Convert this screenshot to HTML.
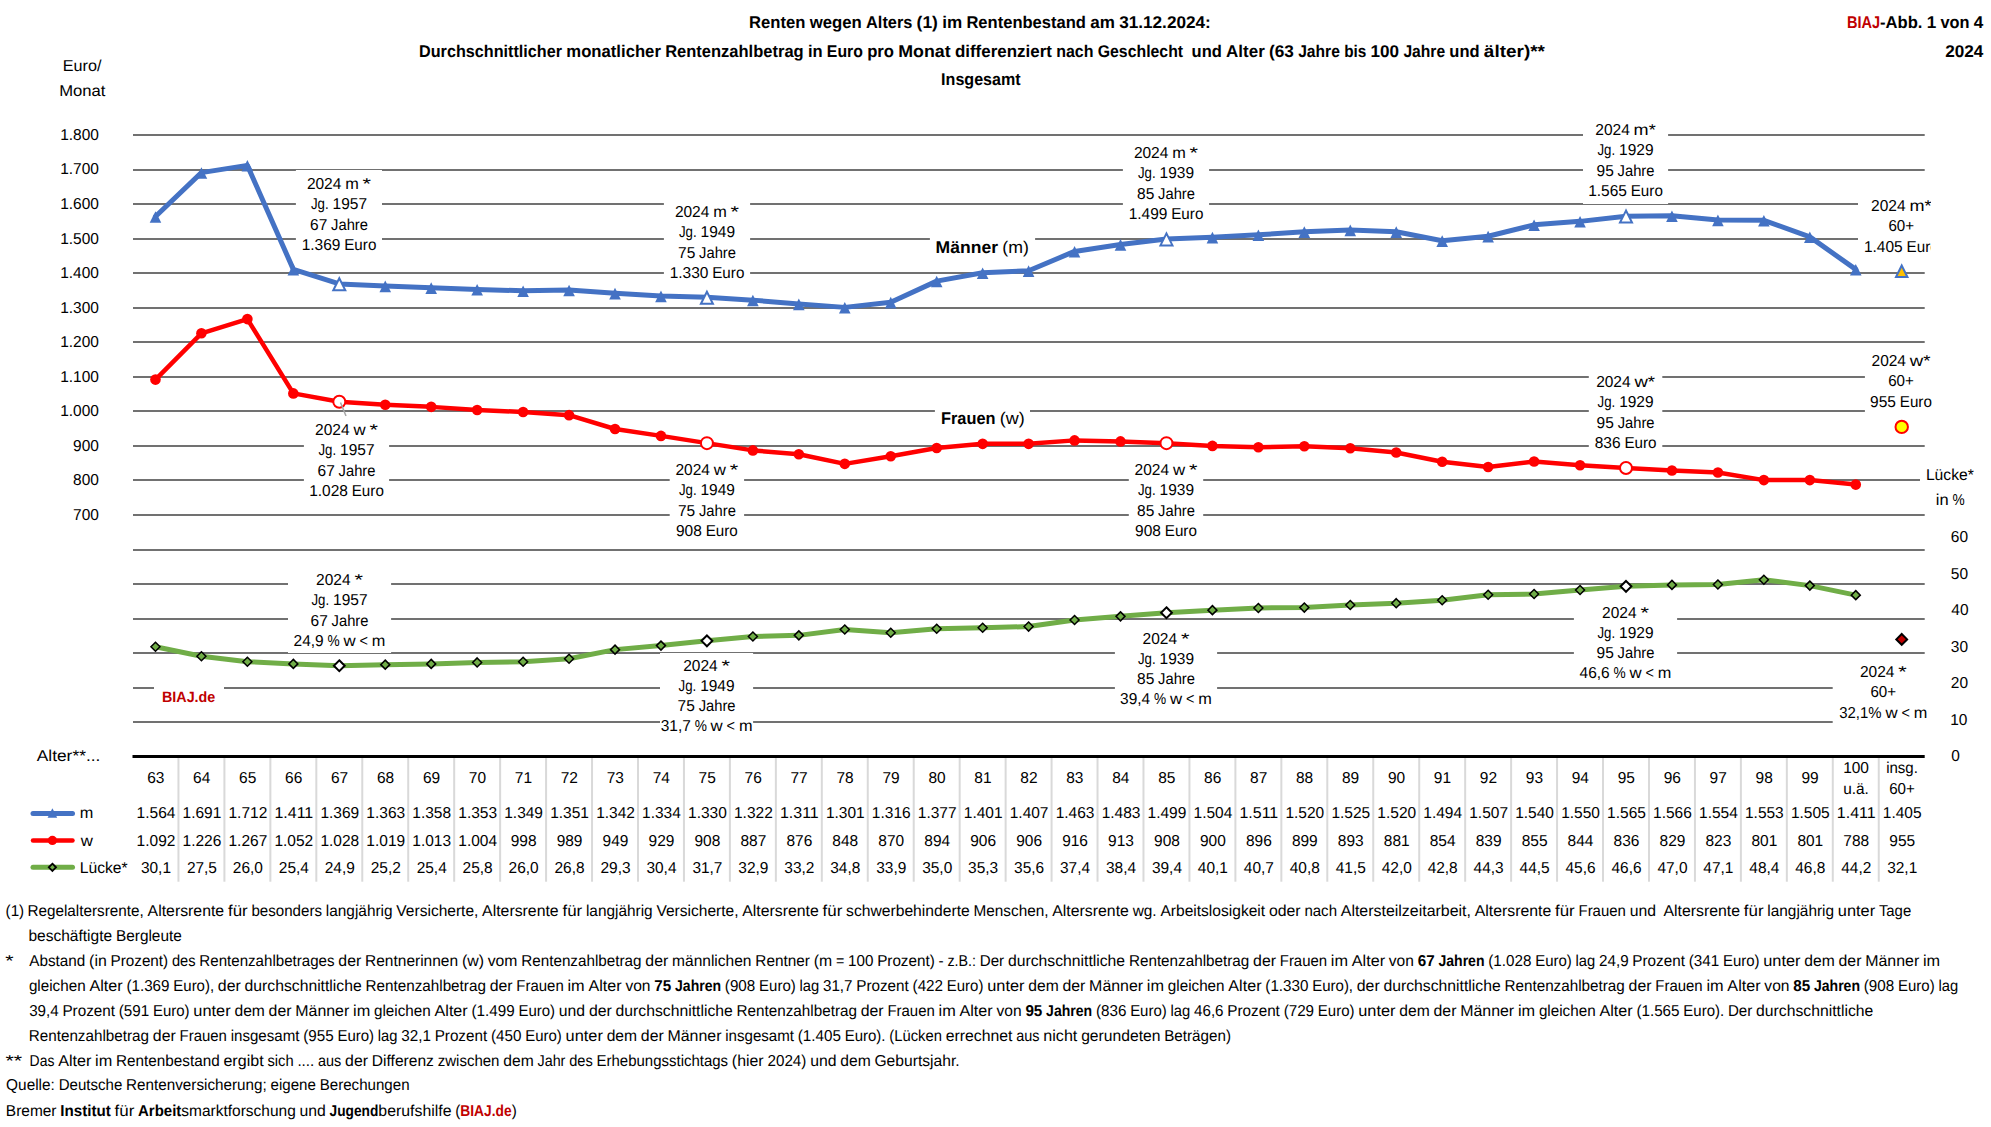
<!DOCTYPE html><html><head><meta charset="utf-8"><title>Renten wegen Alters 2024</title><style>html,body{margin:0;padding:0;background:#fff;overflow:hidden;width:1991px;height:1127px;}svg{display:block;}</style></head><body><svg width="1991" height="1127" viewBox="0 0 1991 1127" font-family="'Liberation Sans', Arial, sans-serif" text-rendering="geometricPrecision">
<defs><clipPath id="cr"><rect x="0" y="0" width="1931" height="1127"/></clipPath></defs>
<rect x="0" y="0" width="1991" height="1127" fill="#fff"/>
<rect x="133" y="134" width="1791.7" height="2" fill="#717171"/>
<rect x="133" y="169" width="1791.7" height="2" fill="#717171"/>
<rect x="133" y="203" width="1791.7" height="2" fill="#717171"/>
<rect x="133" y="238" width="1791.7" height="2" fill="#717171"/>
<rect x="133" y="272" width="1791.7" height="2" fill="#717171"/>
<rect x="133" y="307" width="1791.7" height="2" fill="#717171"/>
<rect x="133" y="341" width="1791.7" height="2" fill="#717171"/>
<rect x="133" y="376" width="1791.7" height="2" fill="#717171"/>
<rect x="133" y="410" width="1791.7" height="2" fill="#717171"/>
<rect x="133" y="445" width="1791.7" height="2" fill="#717171"/>
<rect x="133" y="479" width="1791.7" height="2" fill="#717171"/>
<rect x="133" y="514" width="1791.7" height="2" fill="#717171"/>
<rect x="133" y="549" width="1791.7" height="2" fill="#717171"/>
<rect x="133" y="583" width="1791.7" height="2" fill="#717171"/>
<rect x="133" y="618" width="1791.7" height="2" fill="#717171"/>
<rect x="133" y="652" width="1791.7" height="2" fill="#717171"/>
<rect x="133" y="687" width="1791.7" height="2" fill="#717171"/>
<rect x="133" y="721" width="1791.7" height="2" fill="#717171"/>
<text x="749.11" y="27.90" font-size="17.0" textLength="56.36" lengthAdjust="spacingAndGlyphs" font-weight="bold">Renten</text>
<text x="809.73" y="27.90" font-size="17.0" textLength="52.08" lengthAdjust="spacingAndGlyphs" font-weight="bold">wegen</text>
<text x="866.07" y="27.90" font-size="17.0" textLength="46.30" lengthAdjust="spacingAndGlyphs" font-weight="bold">Alters</text>
<text x="916.63" y="27.90" font-size="17.0" textLength="21.30" lengthAdjust="spacingAndGlyphs" font-weight="bold">(1)</text>
<text x="942.19" y="27.90" font-size="17.0" textLength="19.96" lengthAdjust="spacingAndGlyphs" font-weight="bold">im</text>
<text x="966.41" y="27.90" font-size="17.0" textLength="119.55" lengthAdjust="spacingAndGlyphs" font-weight="bold">Rentenbestand</text>
<text x="1090.23" y="27.90" font-size="17.0" textLength="24.64" lengthAdjust="spacingAndGlyphs" font-weight="bold">am</text>
<text x="1119.13" y="27.90" font-size="17.0" textLength="91.70" lengthAdjust="spacingAndGlyphs" font-weight="bold">31.12.2024:</text>
<text x="419.04" y="56.90" font-size="17.0" textLength="143.04" lengthAdjust="spacingAndGlyphs" font-weight="bold">Durchschnittlicher</text>
<text x="566.32" y="56.90" font-size="17.0" textLength="94.57" lengthAdjust="spacingAndGlyphs" font-weight="bold">monatlicher</text>
<text x="665.14" y="56.90" font-size="17.0" textLength="138.54" lengthAdjust="spacingAndGlyphs" font-weight="bold">Rentenzahlbetrag</text>
<text x="807.93" y="56.90" font-size="17.0" textLength="14.70" lengthAdjust="spacingAndGlyphs" font-weight="bold">in</text>
<text x="826.87" y="56.90" font-size="17.0" textLength="36.03" lengthAdjust="spacingAndGlyphs" font-weight="bold">Euro</text>
<text x="867.15" y="56.90" font-size="17.0" textLength="26.86" lengthAdjust="spacingAndGlyphs" font-weight="bold">pro</text>
<text x="898.26" y="56.90" font-size="17.0" textLength="52.40" lengthAdjust="spacingAndGlyphs" font-weight="bold">Monat</text>
<text x="954.91" y="56.90" font-size="17.0" textLength="97.01" lengthAdjust="spacingAndGlyphs" font-weight="bold">differenziert</text>
<text x="1056.16" y="56.90" font-size="17.0" textLength="37.30" lengthAdjust="spacingAndGlyphs" font-weight="bold">nach</text>
<text x="1097.71" y="56.90" font-size="17.0" textLength="85.41" lengthAdjust="spacingAndGlyphs" font-weight="bold">Geschlecht</text>
<text x="1191.62" y="56.90" font-size="17.0" textLength="30.25" lengthAdjust="spacingAndGlyphs" font-weight="bold">und</text>
<text x="1226.12" y="56.90" font-size="17.0" textLength="38.65" lengthAdjust="spacingAndGlyphs" font-weight="bold">Alter</text>
<text x="1269.02" y="56.90" font-size="17.0" textLength="24.90" lengthAdjust="spacingAndGlyphs" font-weight="bold">(63</text>
<text x="1298.17" y="56.90" font-size="17.0" textLength="41.72" lengthAdjust="spacingAndGlyphs" font-weight="bold">Jahre</text>
<text x="1344.13" y="56.90" font-size="17.0" textLength="22.19" lengthAdjust="spacingAndGlyphs" font-weight="bold">bis</text>
<text x="1370.57" y="56.90" font-size="17.0" textLength="28.57" lengthAdjust="spacingAndGlyphs" font-weight="bold">100</text>
<text x="1403.39" y="56.90" font-size="17.0" textLength="41.72" lengthAdjust="spacingAndGlyphs" font-weight="bold">Jahre</text>
<text x="1449.36" y="56.90" font-size="17.0" textLength="30.25" lengthAdjust="spacingAndGlyphs" font-weight="bold">und</text>
<text x="1483.85" y="56.90" font-size="17.0" textLength="61.11" lengthAdjust="spacingAndGlyphs" font-weight="bold">älter)**</text>
<text x="941.11" y="85.30" font-size="17.0" textLength="79.57" lengthAdjust="spacingAndGlyphs" font-weight="bold">Insgesamt</text>
<text x="1846.91" y="27.75" font-size="17.0" textLength="33.17" lengthAdjust="spacingAndGlyphs" font-weight="bold" fill="#C00000">BIAJ</text>
<text x="1880.07" y="27.75" font-size="17.0" textLength="42.35" lengthAdjust="spacingAndGlyphs" font-weight="bold">-Abb.</text>
<text x="1926.67" y="27.75" font-size="17.0" textLength="9.53" lengthAdjust="spacingAndGlyphs" font-weight="bold">1</text>
<text x="1940.45" y="27.75" font-size="17.0" textLength="29.09" lengthAdjust="spacingAndGlyphs" font-weight="bold">von</text>
<text x="1973.79" y="27.75" font-size="17.0" textLength="9.53" lengthAdjust="spacingAndGlyphs" font-weight="bold">4</text>
<text x="1945.17" y="57.00" font-size="17.0" textLength="38.11" lengthAdjust="spacingAndGlyphs" font-weight="bold">2024</text>
<text x="62.82" y="70.90" font-size="15.8" textLength="38.69" lengthAdjust="spacingAndGlyphs">Euro/</text>
<text x="59.22" y="95.70" font-size="15.8" textLength="46.27" lengthAdjust="spacingAndGlyphs">Monat</text>
<rect x="1920" y="462" width="60" height="48" fill="#fff"/>
<text x="1925.88" y="480.00" font-size="15.8" textLength="47.92" lengthAdjust="spacingAndGlyphs">Lücke*</text>
<text x="1935.85" y="504.80" font-size="15.8" textLength="12.83" lengthAdjust="spacingAndGlyphs">in</text>
<text x="1952.53" y="504.80" font-size="15.8" textLength="12.15" lengthAdjust="spacingAndGlyphs">%</text>
<text x="73.09" y="519.89" font-size="15.8" textLength="25.85" lengthAdjust="spacingAndGlyphs">700</text>
<text x="73.09" y="485.35" font-size="15.8" textLength="25.85" lengthAdjust="spacingAndGlyphs">800</text>
<text x="73.09" y="450.80" font-size="15.8" textLength="25.85" lengthAdjust="spacingAndGlyphs">900</text>
<text x="60.18" y="416.26" font-size="15.8" textLength="38.76" lengthAdjust="spacingAndGlyphs">1.000</text>
<text x="60.18" y="381.71" font-size="15.8" textLength="38.76" lengthAdjust="spacingAndGlyphs">1.100</text>
<text x="60.18" y="347.17" font-size="15.8" textLength="38.76" lengthAdjust="spacingAndGlyphs">1.200</text>
<text x="60.18" y="312.62" font-size="15.8" textLength="38.76" lengthAdjust="spacingAndGlyphs">1.300</text>
<text x="60.18" y="278.08" font-size="15.8" textLength="38.76" lengthAdjust="spacingAndGlyphs">1.400</text>
<text x="60.18" y="243.53" font-size="15.8" textLength="38.76" lengthAdjust="spacingAndGlyphs">1.500</text>
<text x="60.18" y="208.99" font-size="15.8" textLength="38.76" lengthAdjust="spacingAndGlyphs">1.600</text>
<text x="60.18" y="174.44" font-size="15.8" textLength="38.76" lengthAdjust="spacingAndGlyphs">1.700</text>
<text x="60.18" y="139.90" font-size="15.8" textLength="38.76" lengthAdjust="spacingAndGlyphs">1.800</text>
<text x="1951.16" y="761.40" font-size="15.8" textLength="8.62" lengthAdjust="spacingAndGlyphs">0</text>
<text x="1950.13" y="724.82" font-size="15.8" textLength="17.23" lengthAdjust="spacingAndGlyphs">10</text>
<text x="1950.84" y="688.25" font-size="15.8" textLength="17.23" lengthAdjust="spacingAndGlyphs">20</text>
<text x="1950.81" y="651.67" font-size="15.8" textLength="17.23" lengthAdjust="spacingAndGlyphs">30</text>
<text x="1951.31" y="615.10" font-size="15.8" textLength="17.23" lengthAdjust="spacingAndGlyphs">40</text>
<text x="1950.83" y="578.52" font-size="15.8" textLength="17.23" lengthAdjust="spacingAndGlyphs">50</text>
<text x="1950.84" y="541.94" font-size="15.8" textLength="17.23" lengthAdjust="spacingAndGlyphs">60</text>
<rect x="132.5" y="755" width="1792.2" height="3" fill="#000"/>
<rect x="177.45" y="758" width="2" height="123.7" fill="#D9D9D9"/>
<rect x="223.41" y="758" width="2" height="123.7" fill="#D9D9D9"/>
<rect x="269.36" y="758" width="2" height="123.7" fill="#D9D9D9"/>
<rect x="315.32" y="758" width="2" height="123.7" fill="#D9D9D9"/>
<rect x="361.27" y="758" width="2" height="123.7" fill="#D9D9D9"/>
<rect x="407.22" y="758" width="2" height="123.7" fill="#D9D9D9"/>
<rect x="453.18" y="758" width="2" height="123.7" fill="#D9D9D9"/>
<rect x="499.13" y="758" width="2" height="123.7" fill="#D9D9D9"/>
<rect x="545.08" y="758" width="2" height="123.7" fill="#D9D9D9"/>
<rect x="591.04" y="758" width="2" height="123.7" fill="#D9D9D9"/>
<rect x="636.99" y="758" width="2" height="123.7" fill="#D9D9D9"/>
<rect x="682.95" y="758" width="2" height="123.7" fill="#D9D9D9"/>
<rect x="728.90" y="758" width="2" height="123.7" fill="#D9D9D9"/>
<rect x="774.85" y="758" width="2" height="123.7" fill="#D9D9D9"/>
<rect x="820.81" y="758" width="2" height="123.7" fill="#D9D9D9"/>
<rect x="866.76" y="758" width="2" height="123.7" fill="#D9D9D9"/>
<rect x="912.72" y="758" width="2" height="123.7" fill="#D9D9D9"/>
<rect x="958.67" y="758" width="2" height="123.7" fill="#D9D9D9"/>
<rect x="1004.62" y="758" width="2" height="123.7" fill="#D9D9D9"/>
<rect x="1050.58" y="758" width="2" height="123.7" fill="#D9D9D9"/>
<rect x="1096.53" y="758" width="2" height="123.7" fill="#D9D9D9"/>
<rect x="1142.48" y="758" width="2" height="123.7" fill="#D9D9D9"/>
<rect x="1188.44" y="758" width="2" height="123.7" fill="#D9D9D9"/>
<rect x="1234.39" y="758" width="2" height="123.7" fill="#D9D9D9"/>
<rect x="1280.35" y="758" width="2" height="123.7" fill="#D9D9D9"/>
<rect x="1326.30" y="758" width="2" height="123.7" fill="#D9D9D9"/>
<rect x="1372.25" y="758" width="2" height="123.7" fill="#D9D9D9"/>
<rect x="1418.21" y="758" width="2" height="123.7" fill="#D9D9D9"/>
<rect x="1464.16" y="758" width="2" height="123.7" fill="#D9D9D9"/>
<rect x="1510.12" y="758" width="2" height="123.7" fill="#D9D9D9"/>
<rect x="1556.07" y="758" width="2" height="123.7" fill="#D9D9D9"/>
<rect x="1602.02" y="758" width="2" height="123.7" fill="#D9D9D9"/>
<rect x="1647.98" y="758" width="2" height="123.7" fill="#D9D9D9"/>
<rect x="1693.93" y="758" width="2" height="123.7" fill="#D9D9D9"/>
<rect x="1739.88" y="758" width="2" height="123.7" fill="#D9D9D9"/>
<rect x="1785.84" y="758" width="2" height="123.7" fill="#D9D9D9"/>
<rect x="1831.79" y="758" width="2" height="123.7" fill="#D9D9D9"/>
<rect x="1877.75" y="758" width="2" height="123.7" fill="#D9D9D9"/>
<polyline points="155.48,216.53 201.43,172.65 247.38,165.40 293.34,269.38 339.29,283.89 385.25,285.96 431.20,287.69 477.15,289.42 523.11,290.80 569.06,290.11 615.02,293.22 660.97,295.98 706.92,297.36 752.88,300.13 798.83,303.93 844.78,307.38 890.74,302.20 936.69,281.13 982.65,272.83 1028.60,270.76 1074.55,251.42 1120.51,244.51 1166.46,238.98 1212.42,237.25 1258.37,234.84 1304.32,231.73 1350.28,230.00 1396.23,231.73 1442.18,240.71 1488.14,236.22 1534.09,224.82 1580.05,221.36 1626.00,216.18 1671.95,215.84 1717.91,219.98 1763.86,220.33 1809.82,236.91 1855.77,269.38" fill="none" stroke="#4472C4" stroke-width="5" stroke-linejoin="round" stroke-linecap="round"/>
<polyline points="155.48,379.58 201.43,333.29 247.38,319.12 293.34,393.40 339.29,401.69 385.25,404.80 431.20,406.87 477.15,409.98 523.11,412.05 569.06,415.16 615.02,428.98 660.97,435.89 706.92,443.14 752.88,450.40 798.83,454.20 844.78,463.87 890.74,456.27 936.69,447.98 982.65,443.83 1028.60,443.83 1074.55,440.38 1120.51,441.41 1166.46,443.14 1212.42,445.90 1258.37,447.29 1304.32,446.25 1350.28,448.32 1396.23,452.47 1442.18,461.80 1488.14,466.98 1534.09,461.45 1580.05,465.25 1626.00,468.01 1671.95,470.43 1717.91,472.50 1763.86,480.10 1809.82,480.10 1855.77,484.60" fill="none" stroke="#FF0000" stroke-width="4.5" stroke-linejoin="round" stroke-linecap="round"/>
<polyline points="155.48,646.71 201.43,656.22 247.38,661.70 293.34,663.90 339.29,665.73 385.25,664.63 431.20,663.90 477.15,662.43 523.11,661.70 569.06,658.78 615.02,649.63 660.97,645.61 706.92,640.85 752.88,636.46 798.83,635.37 844.78,629.52 890.74,632.81 936.69,628.78 982.65,627.69 1028.60,626.59 1074.55,620.01 1120.51,616.35 1166.46,612.69 1212.42,610.13 1258.37,607.94 1304.32,607.57 1350.28,605.01 1396.23,603.18 1442.18,600.25 1488.14,594.77 1534.09,594.04 1580.05,590.01 1626.00,586.36 1671.95,584.89 1717.91,584.53 1763.86,579.77 1809.82,585.62 1855.77,595.13" fill="none" stroke="#70AD47" stroke-width="5" stroke-linejoin="round" stroke-linecap="round"/>
<polygon points="155.48,211.13 149.68,222.73 161.28,222.73" fill="#4472C4"/>
<circle cx="155.48" cy="379.58" r="5.3" fill="#FF0000"/>
<polygon points="155.48,642.21 159.98,646.71 155.48,651.21 150.98,646.71" fill="#70AD47" stroke="#000" stroke-width="1.5" stroke-linejoin="miter"/>
<polygon points="201.43,167.25 195.63,178.85 207.23,178.85" fill="#4472C4"/>
<circle cx="201.43" cy="333.29" r="5.3" fill="#FF0000"/>
<polygon points="201.43,651.72 205.93,656.22 201.43,660.72 196.93,656.22" fill="#70AD47" stroke="#000" stroke-width="1.5" stroke-linejoin="miter"/>
<polygon points="247.38,160.00 241.58,171.60 253.18,171.60" fill="#4472C4"/>
<circle cx="247.38" cy="319.12" r="5.3" fill="#FF0000"/>
<polygon points="247.38,657.20 251.88,661.70 247.38,666.20 242.88,661.70" fill="#70AD47" stroke="#000" stroke-width="1.5" stroke-linejoin="miter"/>
<polygon points="293.34,263.98 287.54,275.58 299.14,275.58" fill="#4472C4"/>
<circle cx="293.34" cy="393.40" r="5.3" fill="#FF0000"/>
<polygon points="293.34,659.40 297.84,663.90 293.34,668.40 288.84,663.90" fill="#70AD47" stroke="#000" stroke-width="1.5" stroke-linejoin="miter"/>
<polygon points="339.29,278.29 333.29,290.29 345.29,290.29" fill="#fff" stroke="#4472C4" stroke-width="2" stroke-linejoin="miter"/>
<circle cx="339.29" cy="401.69" r="6.0" fill="#fff" stroke="#FF0000" stroke-width="2"/>
<polygon points="339.29,660.33 344.69,665.73 339.29,671.13 333.89,665.73" fill="#fff" stroke="#000" stroke-width="2" stroke-linejoin="miter"/>
<polygon points="385.25,280.56 379.45,292.16 391.05,292.16" fill="#4472C4"/>
<circle cx="385.25" cy="404.80" r="5.3" fill="#FF0000"/>
<polygon points="385.25,660.13 389.75,664.63 385.25,669.13 380.75,664.63" fill="#70AD47" stroke="#000" stroke-width="1.5" stroke-linejoin="miter"/>
<polygon points="431.20,282.29 425.40,293.89 437.00,293.89" fill="#4472C4"/>
<circle cx="431.20" cy="406.87" r="5.3" fill="#FF0000"/>
<polygon points="431.20,659.40 435.70,663.90 431.20,668.40 426.70,663.90" fill="#70AD47" stroke="#000" stroke-width="1.5" stroke-linejoin="miter"/>
<polygon points="477.15,284.02 471.35,295.62 482.95,295.62" fill="#4472C4"/>
<circle cx="477.15" cy="409.98" r="5.3" fill="#FF0000"/>
<polygon points="477.15,657.93 481.65,662.43 477.15,666.93 472.65,662.43" fill="#70AD47" stroke="#000" stroke-width="1.5" stroke-linejoin="miter"/>
<polygon points="523.11,285.40 517.31,297.00 528.91,297.00" fill="#4472C4"/>
<circle cx="523.11" cy="412.05" r="5.3" fill="#FF0000"/>
<polygon points="523.11,657.20 527.61,661.70 523.11,666.20 518.61,661.70" fill="#70AD47" stroke="#000" stroke-width="1.5" stroke-linejoin="miter"/>
<polygon points="569.06,284.71 563.26,296.31 574.86,296.31" fill="#4472C4"/>
<circle cx="569.06" cy="415.16" r="5.3" fill="#FF0000"/>
<polygon points="569.06,654.28 573.56,658.78 569.06,663.28 564.56,658.78" fill="#70AD47" stroke="#000" stroke-width="1.5" stroke-linejoin="miter"/>
<polygon points="615.02,287.82 609.22,299.42 620.82,299.42" fill="#4472C4"/>
<circle cx="615.02" cy="428.98" r="5.3" fill="#FF0000"/>
<polygon points="615.02,645.13 619.52,649.63 615.02,654.13 610.52,649.63" fill="#70AD47" stroke="#000" stroke-width="1.5" stroke-linejoin="miter"/>
<polygon points="660.97,290.58 655.17,302.18 666.77,302.18" fill="#4472C4"/>
<circle cx="660.97" cy="435.89" r="5.3" fill="#FF0000"/>
<polygon points="660.97,641.11 665.47,645.61 660.97,650.11 656.47,645.61" fill="#70AD47" stroke="#000" stroke-width="1.5" stroke-linejoin="miter"/>
<polygon points="706.92,291.76 700.92,303.76 712.92,303.76" fill="#fff" stroke="#4472C4" stroke-width="2" stroke-linejoin="miter"/>
<circle cx="706.92" cy="443.14" r="6.0" fill="#fff" stroke="#FF0000" stroke-width="2"/>
<polygon points="706.92,635.45 712.32,640.85 706.92,646.25 701.52,640.85" fill="#fff" stroke="#000" stroke-width="2" stroke-linejoin="miter"/>
<polygon points="752.88,294.73 747.08,306.33 758.68,306.33" fill="#4472C4"/>
<circle cx="752.88" cy="450.40" r="5.3" fill="#FF0000"/>
<polygon points="752.88,631.96 757.38,636.46 752.88,640.96 748.38,636.46" fill="#70AD47" stroke="#000" stroke-width="1.5" stroke-linejoin="miter"/>
<polygon points="798.83,298.53 793.03,310.13 804.63,310.13" fill="#4472C4"/>
<circle cx="798.83" cy="454.20" r="5.3" fill="#FF0000"/>
<polygon points="798.83,630.87 803.33,635.37 798.83,639.87 794.33,635.37" fill="#70AD47" stroke="#000" stroke-width="1.5" stroke-linejoin="miter"/>
<polygon points="844.78,301.98 838.98,313.58 850.58,313.58" fill="#4472C4"/>
<circle cx="844.78" cy="463.87" r="5.3" fill="#FF0000"/>
<polygon points="844.78,625.02 849.28,629.52 844.78,634.02 840.28,629.52" fill="#70AD47" stroke="#000" stroke-width="1.5" stroke-linejoin="miter"/>
<polygon points="890.74,296.80 884.94,308.40 896.54,308.40" fill="#4472C4"/>
<circle cx="890.74" cy="456.27" r="5.3" fill="#FF0000"/>
<polygon points="890.74,628.31 895.24,632.81 890.74,637.31 886.24,632.81" fill="#70AD47" stroke="#000" stroke-width="1.5" stroke-linejoin="miter"/>
<polygon points="936.69,275.73 930.89,287.33 942.49,287.33" fill="#4472C4"/>
<circle cx="936.69" cy="447.98" r="5.3" fill="#FF0000"/>
<polygon points="936.69,624.28 941.19,628.78 936.69,633.28 932.19,628.78" fill="#70AD47" stroke="#000" stroke-width="1.5" stroke-linejoin="miter"/>
<polygon points="982.65,267.43 976.85,279.03 988.45,279.03" fill="#4472C4"/>
<circle cx="982.65" cy="443.83" r="5.3" fill="#FF0000"/>
<polygon points="982.65,623.19 987.15,627.69 982.65,632.19 978.15,627.69" fill="#70AD47" stroke="#000" stroke-width="1.5" stroke-linejoin="miter"/>
<polygon points="1028.60,265.36 1022.80,276.96 1034.40,276.96" fill="#4472C4"/>
<circle cx="1028.60" cy="443.83" r="5.3" fill="#FF0000"/>
<polygon points="1028.60,622.09 1033.10,626.59 1028.60,631.09 1024.10,626.59" fill="#70AD47" stroke="#000" stroke-width="1.5" stroke-linejoin="miter"/>
<polygon points="1074.55,246.02 1068.75,257.62 1080.35,257.62" fill="#4472C4"/>
<circle cx="1074.55" cy="440.38" r="5.3" fill="#FF0000"/>
<polygon points="1074.55,615.51 1079.05,620.01 1074.55,624.51 1070.05,620.01" fill="#70AD47" stroke="#000" stroke-width="1.5" stroke-linejoin="miter"/>
<polygon points="1120.51,239.11 1114.71,250.71 1126.31,250.71" fill="#4472C4"/>
<circle cx="1120.51" cy="441.41" r="5.3" fill="#FF0000"/>
<polygon points="1120.51,611.85 1125.01,616.35 1120.51,620.85 1116.01,616.35" fill="#70AD47" stroke="#000" stroke-width="1.5" stroke-linejoin="miter"/>
<polygon points="1166.46,233.38 1160.46,245.38 1172.46,245.38" fill="#fff" stroke="#4472C4" stroke-width="2" stroke-linejoin="miter"/>
<circle cx="1166.46" cy="443.14" r="6.0" fill="#fff" stroke="#FF0000" stroke-width="2"/>
<polygon points="1166.46,607.29 1171.86,612.69 1166.46,618.09 1161.06,612.69" fill="#fff" stroke="#000" stroke-width="2" stroke-linejoin="miter"/>
<polygon points="1212.42,231.85 1206.62,243.45 1218.22,243.45" fill="#4472C4"/>
<circle cx="1212.42" cy="445.90" r="5.3" fill="#FF0000"/>
<polygon points="1212.42,605.63 1216.92,610.13 1212.42,614.63 1207.92,610.13" fill="#70AD47" stroke="#000" stroke-width="1.5" stroke-linejoin="miter"/>
<polygon points="1258.37,229.44 1252.57,241.04 1264.17,241.04" fill="#4472C4"/>
<circle cx="1258.37" cy="447.29" r="5.3" fill="#FF0000"/>
<polygon points="1258.37,603.44 1262.87,607.94 1258.37,612.44 1253.87,607.94" fill="#70AD47" stroke="#000" stroke-width="1.5" stroke-linejoin="miter"/>
<polygon points="1304.32,226.33 1298.52,237.93 1310.12,237.93" fill="#4472C4"/>
<circle cx="1304.32" cy="446.25" r="5.3" fill="#FF0000"/>
<polygon points="1304.32,603.07 1308.82,607.57 1304.32,612.07 1299.82,607.57" fill="#70AD47" stroke="#000" stroke-width="1.5" stroke-linejoin="miter"/>
<polygon points="1350.28,224.60 1344.48,236.20 1356.08,236.20" fill="#4472C4"/>
<circle cx="1350.28" cy="448.32" r="5.3" fill="#FF0000"/>
<polygon points="1350.28,600.51 1354.78,605.01 1350.28,609.51 1345.78,605.01" fill="#70AD47" stroke="#000" stroke-width="1.5" stroke-linejoin="miter"/>
<polygon points="1396.23,226.33 1390.43,237.93 1402.03,237.93" fill="#4472C4"/>
<circle cx="1396.23" cy="452.47" r="5.3" fill="#FF0000"/>
<polygon points="1396.23,598.68 1400.73,603.18 1396.23,607.68 1391.73,603.18" fill="#70AD47" stroke="#000" stroke-width="1.5" stroke-linejoin="miter"/>
<polygon points="1442.18,235.31 1436.38,246.91 1447.98,246.91" fill="#4472C4"/>
<circle cx="1442.18" cy="461.80" r="5.3" fill="#FF0000"/>
<polygon points="1442.18,595.75 1446.68,600.25 1442.18,604.75 1437.68,600.25" fill="#70AD47" stroke="#000" stroke-width="1.5" stroke-linejoin="miter"/>
<polygon points="1488.14,230.82 1482.34,242.42 1493.94,242.42" fill="#4472C4"/>
<circle cx="1488.14" cy="466.98" r="5.3" fill="#FF0000"/>
<polygon points="1488.14,590.27 1492.64,594.77 1488.14,599.27 1483.64,594.77" fill="#70AD47" stroke="#000" stroke-width="1.5" stroke-linejoin="miter"/>
<polygon points="1534.09,219.42 1528.29,231.02 1539.89,231.02" fill="#4472C4"/>
<circle cx="1534.09" cy="461.45" r="5.3" fill="#FF0000"/>
<polygon points="1534.09,589.54 1538.59,594.04 1534.09,598.54 1529.59,594.04" fill="#70AD47" stroke="#000" stroke-width="1.5" stroke-linejoin="miter"/>
<polygon points="1580.05,215.96 1574.25,227.56 1585.85,227.56" fill="#4472C4"/>
<circle cx="1580.05" cy="465.25" r="5.3" fill="#FF0000"/>
<polygon points="1580.05,585.51 1584.55,590.01 1580.05,594.51 1575.55,590.01" fill="#70AD47" stroke="#000" stroke-width="1.5" stroke-linejoin="miter"/>
<polygon points="1626.00,210.58 1620.00,222.58 1632.00,222.58" fill="#fff" stroke="#4472C4" stroke-width="2" stroke-linejoin="miter"/>
<circle cx="1626.00" cy="468.01" r="6.0" fill="#fff" stroke="#FF0000" stroke-width="2"/>
<polygon points="1626.00,580.96 1631.40,586.36 1626.00,591.76 1620.60,586.36" fill="#fff" stroke="#000" stroke-width="2" stroke-linejoin="miter"/>
<polygon points="1671.95,210.44 1666.15,222.04 1677.75,222.04" fill="#4472C4"/>
<circle cx="1671.95" cy="470.43" r="5.3" fill="#FF0000"/>
<polygon points="1671.95,580.39 1676.45,584.89 1671.95,589.39 1667.45,584.89" fill="#70AD47" stroke="#000" stroke-width="1.5" stroke-linejoin="miter"/>
<polygon points="1717.91,214.58 1712.11,226.18 1723.71,226.18" fill="#4472C4"/>
<circle cx="1717.91" cy="472.50" r="5.3" fill="#FF0000"/>
<polygon points="1717.91,580.03 1722.41,584.53 1717.91,589.03 1713.41,584.53" fill="#70AD47" stroke="#000" stroke-width="1.5" stroke-linejoin="miter"/>
<polygon points="1763.86,214.93 1758.06,226.53 1769.66,226.53" fill="#4472C4"/>
<circle cx="1763.86" cy="480.10" r="5.3" fill="#FF0000"/>
<polygon points="1763.86,575.27 1768.36,579.77 1763.86,584.27 1759.36,579.77" fill="#70AD47" stroke="#000" stroke-width="1.5" stroke-linejoin="miter"/>
<polygon points="1809.82,231.51 1804.02,243.11 1815.62,243.11" fill="#4472C4"/>
<circle cx="1809.82" cy="480.10" r="5.3" fill="#FF0000"/>
<polygon points="1809.82,581.12 1814.32,585.62 1809.82,590.12 1805.32,585.62" fill="#70AD47" stroke="#000" stroke-width="1.5" stroke-linejoin="miter"/>
<polygon points="1855.77,263.98 1849.97,275.58 1861.57,275.58" fill="#4472C4"/>
<circle cx="1855.77" cy="484.60" r="5.3" fill="#FF0000"/>
<polygon points="1855.77,590.63 1860.27,595.13 1855.77,599.63 1851.27,595.13" fill="#70AD47" stroke="#000" stroke-width="1.5" stroke-linejoin="miter"/>
<polygon points="1901.72,265.55 1896.02,276.95 1907.42,276.95" fill="#FFC000" stroke="#4472C4" stroke-width="2" stroke-linejoin="miter"/>
<circle cx="1901.72" cy="426.91" r="6.2" fill="#FFFF00" stroke="#FF0000" stroke-width="2"/>
<polygon points="1901.72,633.99 1907.12,639.39 1901.72,644.79 1896.32,639.39" fill="#C00000" stroke="#000" stroke-width="2" stroke-linejoin="miter"/>
<line x1="340.5" y1="402.5" x2="346" y2="416" stroke="#A6A6A6" stroke-width="1.5"/>
<rect x="295.9" y="170.0" width="86.1" height="87.9" fill="#fff"/>
<text x="306.90" y="188.90" font-size="15.8" textLength="34.46" lengthAdjust="spacingAndGlyphs">2024</text>
<text x="345.21" y="188.90" font-size="15.8" textLength="13.58" lengthAdjust="spacingAndGlyphs">m</text>
<text x="362.63" y="188.90" font-size="15.8" textLength="8.47" lengthAdjust="spacingAndGlyphs">*</text>
<text x="310.99" y="208.80" font-size="15.8" textLength="17.71" lengthAdjust="spacingAndGlyphs">Jg.</text>
<text x="332.55" y="208.80" font-size="15.8" textLength="34.46" lengthAdjust="spacingAndGlyphs">1957</text>
<text x="310.02" y="229.50" font-size="15.8" textLength="17.23" lengthAdjust="spacingAndGlyphs">67</text>
<text x="331.10" y="229.50" font-size="15.8" textLength="36.88" lengthAdjust="spacingAndGlyphs">Jahre</text>
<text x="301.64" y="249.50" font-size="15.8" textLength="38.76" lengthAdjust="spacingAndGlyphs">1.369</text>
<text x="344.24" y="249.50" font-size="15.8" textLength="32.12" lengthAdjust="spacingAndGlyphs">Euro</text>
<rect x="663.9" y="198.4" width="86.2" height="87.9" fill="#fff"/>
<text x="674.90" y="216.60" font-size="15.8" textLength="34.46" lengthAdjust="spacingAndGlyphs">2024</text>
<text x="713.21" y="216.60" font-size="15.8" textLength="13.58" lengthAdjust="spacingAndGlyphs">m</text>
<text x="730.63" y="216.60" font-size="15.8" textLength="8.47" lengthAdjust="spacingAndGlyphs">*</text>
<text x="678.99" y="236.90" font-size="15.8" textLength="17.71" lengthAdjust="spacingAndGlyphs">Jg.</text>
<text x="700.55" y="236.90" font-size="15.8" textLength="34.46" lengthAdjust="spacingAndGlyphs">1949</text>
<text x="678.02" y="257.90" font-size="15.8" textLength="17.23" lengthAdjust="spacingAndGlyphs">75</text>
<text x="699.10" y="257.90" font-size="15.8" textLength="36.88" lengthAdjust="spacingAndGlyphs">Jahre</text>
<text x="669.64" y="277.90" font-size="15.8" textLength="38.76" lengthAdjust="spacingAndGlyphs">1.330</text>
<text x="712.24" y="277.90" font-size="15.8" textLength="32.12" lengthAdjust="spacingAndGlyphs">Euro</text>
<rect x="1122.9" y="139.5" width="86.2" height="87.5" fill="#fff"/>
<text x="1133.90" y="157.70" font-size="15.8" textLength="34.46" lengthAdjust="spacingAndGlyphs">2024</text>
<text x="1172.21" y="157.70" font-size="15.8" textLength="13.58" lengthAdjust="spacingAndGlyphs">m</text>
<text x="1189.63" y="157.70" font-size="15.8" textLength="8.47" lengthAdjust="spacingAndGlyphs">*</text>
<text x="1137.99" y="177.70" font-size="15.8" textLength="17.71" lengthAdjust="spacingAndGlyphs">Jg.</text>
<text x="1159.55" y="177.70" font-size="15.8" textLength="34.46" lengthAdjust="spacingAndGlyphs">1939</text>
<text x="1137.02" y="198.50" font-size="15.8" textLength="17.23" lengthAdjust="spacingAndGlyphs">85</text>
<text x="1158.10" y="198.50" font-size="15.8" textLength="36.88" lengthAdjust="spacingAndGlyphs">Jahre</text>
<text x="1128.64" y="218.60" font-size="15.8" textLength="38.76" lengthAdjust="spacingAndGlyphs">1.499</text>
<text x="1171.24" y="218.60" font-size="15.8" textLength="32.12" lengthAdjust="spacingAndGlyphs">Euro</text>
<rect x="1583.0" y="116.7" width="85.1" height="87.3" fill="#fff"/>
<text x="1595.32" y="134.90" font-size="15.8" textLength="34.46" lengthAdjust="spacingAndGlyphs">2024</text>
<text x="1633.63" y="134.90" font-size="15.8" textLength="22.05" lengthAdjust="spacingAndGlyphs">m*</text>
<text x="1597.49" y="154.80" font-size="15.8" textLength="17.71" lengthAdjust="spacingAndGlyphs">Jg.</text>
<text x="1619.05" y="154.80" font-size="15.8" textLength="34.46" lengthAdjust="spacingAndGlyphs">1929</text>
<text x="1596.52" y="175.70" font-size="15.8" textLength="17.23" lengthAdjust="spacingAndGlyphs">95</text>
<text x="1617.60" y="175.70" font-size="15.8" textLength="36.88" lengthAdjust="spacingAndGlyphs">Jahre</text>
<text x="1588.14" y="195.60" font-size="15.8" textLength="38.76" lengthAdjust="spacingAndGlyphs">1.565</text>
<text x="1630.74" y="195.60" font-size="15.8" textLength="32.12" lengthAdjust="spacingAndGlyphs">Euro</text>
<rect x="1858.0" y="192.5" width="87.0" height="67.4" fill="#fff"/>
<text x="1871.12" y="210.70" font-size="15.8" textLength="34.46" lengthAdjust="spacingAndGlyphs" clip-path="url(#cr)">2024</text>
<text x="1909.43" y="210.70" font-size="15.8" textLength="22.05" lengthAdjust="spacingAndGlyphs" clip-path="url(#cr)">m*</text>
<text x="1888.45" y="230.70" font-size="15.8" textLength="25.70" lengthAdjust="spacingAndGlyphs" clip-path="url(#cr)">60+</text>
<text x="1863.94" y="251.50" font-size="15.8" textLength="38.76" lengthAdjust="spacingAndGlyphs" clip-path="url(#cr)">1.405</text>
<text x="1906.54" y="251.50" font-size="15.8" textLength="32.12" lengthAdjust="spacingAndGlyphs" clip-path="url(#cr)">Euro</text>
<rect x="303.9" y="416.5" width="85.2" height="87.6" fill="#fff"/>
<text x="315.11" y="434.70" font-size="15.8" textLength="34.46" lengthAdjust="spacingAndGlyphs">2024</text>
<text x="353.42" y="434.70" font-size="15.8" textLength="12.15" lengthAdjust="spacingAndGlyphs">w</text>
<text x="369.42" y="434.70" font-size="15.8" textLength="8.47" lengthAdjust="spacingAndGlyphs">*</text>
<text x="318.49" y="454.90" font-size="15.8" textLength="17.71" lengthAdjust="spacingAndGlyphs">Jg.</text>
<text x="340.05" y="454.90" font-size="15.8" textLength="34.46" lengthAdjust="spacingAndGlyphs">1957</text>
<text x="317.52" y="475.60" font-size="15.8" textLength="17.23" lengthAdjust="spacingAndGlyphs">67</text>
<text x="338.60" y="475.60" font-size="15.8" textLength="36.88" lengthAdjust="spacingAndGlyphs">Jahre</text>
<text x="309.14" y="495.70" font-size="15.8" textLength="38.76" lengthAdjust="spacingAndGlyphs">1.028</text>
<text x="351.74" y="495.70" font-size="15.8" textLength="32.12" lengthAdjust="spacingAndGlyphs">Euro</text>
<rect x="669.7" y="456.5" width="74.4" height="87.6" fill="#fff"/>
<text x="675.51" y="474.70" font-size="15.8" textLength="34.46" lengthAdjust="spacingAndGlyphs">2024</text>
<text x="713.82" y="474.70" font-size="15.8" textLength="12.15" lengthAdjust="spacingAndGlyphs">w</text>
<text x="729.82" y="474.70" font-size="15.8" textLength="8.47" lengthAdjust="spacingAndGlyphs">*</text>
<text x="678.89" y="494.90" font-size="15.8" textLength="17.71" lengthAdjust="spacingAndGlyphs">Jg.</text>
<text x="700.45" y="494.90" font-size="15.8" textLength="34.46" lengthAdjust="spacingAndGlyphs">1949</text>
<text x="677.92" y="515.60" font-size="15.8" textLength="17.23" lengthAdjust="spacingAndGlyphs">75</text>
<text x="699.00" y="515.60" font-size="15.8" textLength="36.88" lengthAdjust="spacingAndGlyphs">Jahre</text>
<text x="675.99" y="535.70" font-size="15.8" textLength="25.85" lengthAdjust="spacingAndGlyphs">908</text>
<text x="705.68" y="535.70" font-size="15.8" textLength="32.12" lengthAdjust="spacingAndGlyphs">Euro</text>
<rect x="1128.8" y="456.5" width="74.4" height="87.6" fill="#fff"/>
<text x="1134.61" y="474.70" font-size="15.8" textLength="34.46" lengthAdjust="spacingAndGlyphs">2024</text>
<text x="1172.92" y="474.70" font-size="15.8" textLength="12.15" lengthAdjust="spacingAndGlyphs">w</text>
<text x="1188.92" y="474.70" font-size="15.8" textLength="8.47" lengthAdjust="spacingAndGlyphs">*</text>
<text x="1137.99" y="494.90" font-size="15.8" textLength="17.71" lengthAdjust="spacingAndGlyphs">Jg.</text>
<text x="1159.55" y="494.90" font-size="15.8" textLength="34.46" lengthAdjust="spacingAndGlyphs">1939</text>
<text x="1137.02" y="515.60" font-size="15.8" textLength="17.23" lengthAdjust="spacingAndGlyphs">85</text>
<text x="1158.10" y="515.60" font-size="15.8" textLength="36.88" lengthAdjust="spacingAndGlyphs">Jahre</text>
<text x="1135.09" y="535.70" font-size="15.8" textLength="25.85" lengthAdjust="spacingAndGlyphs">908</text>
<text x="1164.78" y="535.70" font-size="15.8" textLength="32.12" lengthAdjust="spacingAndGlyphs">Euro</text>
<rect x="1588.8" y="368.4" width="73.5" height="87.7" fill="#fff"/>
<text x="1596.14" y="386.60" font-size="15.8" textLength="34.46" lengthAdjust="spacingAndGlyphs">2024</text>
<text x="1634.44" y="386.60" font-size="15.8" textLength="20.62" lengthAdjust="spacingAndGlyphs">w*</text>
<text x="1597.59" y="406.60" font-size="15.8" textLength="17.71" lengthAdjust="spacingAndGlyphs">Jg.</text>
<text x="1619.15" y="406.60" font-size="15.8" textLength="34.46" lengthAdjust="spacingAndGlyphs">1929</text>
<text x="1596.62" y="427.60" font-size="15.8" textLength="17.23" lengthAdjust="spacingAndGlyphs">95</text>
<text x="1617.70" y="427.60" font-size="15.8" textLength="36.88" lengthAdjust="spacingAndGlyphs">Jahre</text>
<text x="1594.69" y="447.70" font-size="15.8" textLength="25.85" lengthAdjust="spacingAndGlyphs">836</text>
<text x="1624.38" y="447.70" font-size="15.8" textLength="32.12" lengthAdjust="spacingAndGlyphs">Euro</text>
<rect x="1864.9" y="347.7" width="73.1" height="67.2" fill="#fff"/>
<text x="1871.54" y="365.90" font-size="15.8" textLength="34.46" lengthAdjust="spacingAndGlyphs">2024</text>
<text x="1909.84" y="365.90" font-size="15.8" textLength="20.62" lengthAdjust="spacingAndGlyphs">w*</text>
<text x="1888.15" y="385.70" font-size="15.8" textLength="25.70" lengthAdjust="spacingAndGlyphs">60+</text>
<text x="1870.09" y="406.50" font-size="15.8" textLength="25.85" lengthAdjust="spacingAndGlyphs">955</text>
<text x="1899.78" y="406.50" font-size="15.8" textLength="32.12" lengthAdjust="spacingAndGlyphs">Euro</text>
<rect x="288.0" y="566.5" width="103.1" height="86.5" fill="#fff"/>
<text x="316.11" y="584.70" font-size="15.8" textLength="34.46" lengthAdjust="spacingAndGlyphs">2024</text>
<text x="354.42" y="584.70" font-size="15.8" textLength="8.47" lengthAdjust="spacingAndGlyphs">*</text>
<text x="311.49" y="604.80" font-size="15.8" textLength="17.71" lengthAdjust="spacingAndGlyphs">Jg.</text>
<text x="333.05" y="604.80" font-size="15.8" textLength="34.46" lengthAdjust="spacingAndGlyphs">1957</text>
<text x="310.52" y="625.70" font-size="15.8" textLength="17.23" lengthAdjust="spacingAndGlyphs">67</text>
<text x="331.60" y="625.70" font-size="15.8" textLength="36.88" lengthAdjust="spacingAndGlyphs">Jahre</text>
<text x="293.59" y="645.60" font-size="15.8" textLength="30.09" lengthAdjust="spacingAndGlyphs">24,9</text>
<text x="327.53" y="645.60" font-size="15.8" textLength="12.15" lengthAdjust="spacingAndGlyphs">%</text>
<text x="343.52" y="645.60" font-size="15.8" textLength="12.15" lengthAdjust="spacingAndGlyphs">w</text>
<text x="359.52" y="645.60" font-size="15.8" textLength="8.47" lengthAdjust="spacingAndGlyphs">&lt;</text>
<text x="371.83" y="645.60" font-size="15.8" textLength="13.58" lengthAdjust="spacingAndGlyphs">m</text>
<rect x="660.0" y="653.0" width="93.1" height="86.8" fill="#fff"/>
<text x="683.21" y="670.60" font-size="15.8" textLength="34.46" lengthAdjust="spacingAndGlyphs">2024</text>
<text x="721.52" y="670.60" font-size="15.8" textLength="8.47" lengthAdjust="spacingAndGlyphs">*</text>
<text x="678.59" y="690.80" font-size="15.8" textLength="17.71" lengthAdjust="spacingAndGlyphs">Jg.</text>
<text x="700.15" y="690.80" font-size="15.8" textLength="34.46" lengthAdjust="spacingAndGlyphs">1949</text>
<text x="677.62" y="711.40" font-size="15.8" textLength="17.23" lengthAdjust="spacingAndGlyphs">75</text>
<text x="698.70" y="711.40" font-size="15.8" textLength="36.88" lengthAdjust="spacingAndGlyphs">Jahre</text>
<text x="660.69" y="731.40" font-size="15.8" textLength="30.09" lengthAdjust="spacingAndGlyphs">31,7</text>
<text x="694.63" y="731.40" font-size="15.8" textLength="12.15" lengthAdjust="spacingAndGlyphs">%</text>
<text x="710.62" y="731.40" font-size="15.8" textLength="12.15" lengthAdjust="spacingAndGlyphs">w</text>
<text x="726.62" y="731.40" font-size="15.8" textLength="8.47" lengthAdjust="spacingAndGlyphs">&lt;</text>
<text x="738.93" y="731.40" font-size="15.8" textLength="13.58" lengthAdjust="spacingAndGlyphs">m</text>
<rect x="1114.9" y="625.4" width="102.2" height="87.4" fill="#fff"/>
<text x="1142.61" y="643.60" font-size="15.8" textLength="34.46" lengthAdjust="spacingAndGlyphs">2024</text>
<text x="1180.92" y="643.60" font-size="15.8" textLength="8.47" lengthAdjust="spacingAndGlyphs">*</text>
<text x="1137.99" y="663.60" font-size="15.8" textLength="17.71" lengthAdjust="spacingAndGlyphs">Jg.</text>
<text x="1159.55" y="663.60" font-size="15.8" textLength="34.46" lengthAdjust="spacingAndGlyphs">1939</text>
<text x="1137.02" y="684.40" font-size="15.8" textLength="17.23" lengthAdjust="spacingAndGlyphs">85</text>
<text x="1158.10" y="684.40" font-size="15.8" textLength="36.88" lengthAdjust="spacingAndGlyphs">Jahre</text>
<text x="1120.09" y="704.40" font-size="15.8" textLength="30.09" lengthAdjust="spacingAndGlyphs">39,4</text>
<text x="1154.03" y="704.40" font-size="15.8" textLength="12.15" lengthAdjust="spacingAndGlyphs">%</text>
<text x="1170.02" y="704.40" font-size="15.8" textLength="12.15" lengthAdjust="spacingAndGlyphs">w</text>
<text x="1186.02" y="704.40" font-size="15.8" textLength="8.47" lengthAdjust="spacingAndGlyphs">&lt;</text>
<text x="1198.33" y="704.40" font-size="15.8" textLength="13.58" lengthAdjust="spacingAndGlyphs">m</text>
<rect x="1573.9" y="599.5" width="103.2" height="87.2" fill="#fff"/>
<text x="1602.11" y="617.70" font-size="15.8" textLength="34.46" lengthAdjust="spacingAndGlyphs">2024</text>
<text x="1640.42" y="617.70" font-size="15.8" textLength="8.47" lengthAdjust="spacingAndGlyphs">*</text>
<text x="1597.49" y="637.70" font-size="15.8" textLength="17.71" lengthAdjust="spacingAndGlyphs">Jg.</text>
<text x="1619.05" y="637.70" font-size="15.8" textLength="34.46" lengthAdjust="spacingAndGlyphs">1929</text>
<text x="1596.52" y="658.30" font-size="15.8" textLength="17.23" lengthAdjust="spacingAndGlyphs">95</text>
<text x="1617.60" y="658.30" font-size="15.8" textLength="36.88" lengthAdjust="spacingAndGlyphs">Jahre</text>
<text x="1579.59" y="678.30" font-size="15.8" textLength="30.09" lengthAdjust="spacingAndGlyphs">46,6</text>
<text x="1613.53" y="678.30" font-size="15.8" textLength="12.15" lengthAdjust="spacingAndGlyphs">%</text>
<text x="1629.52" y="678.30" font-size="15.8" textLength="12.15" lengthAdjust="spacingAndGlyphs">w</text>
<text x="1645.52" y="678.30" font-size="15.8" textLength="8.47" lengthAdjust="spacingAndGlyphs">&lt;</text>
<text x="1657.83" y="678.30" font-size="15.8" textLength="13.58" lengthAdjust="spacingAndGlyphs">m</text>
<rect x="1832.7" y="658.4" width="101.3" height="67.7" fill="#fff"/>
<text x="1859.91" y="676.60" font-size="15.8" textLength="34.46" lengthAdjust="spacingAndGlyphs">2024</text>
<text x="1898.22" y="676.60" font-size="15.8" textLength="8.47" lengthAdjust="spacingAndGlyphs">*</text>
<text x="1870.45" y="696.70" font-size="15.8" textLength="25.70" lengthAdjust="spacingAndGlyphs">60+</text>
<text x="1839.31" y="717.70" font-size="15.8" textLength="42.24" lengthAdjust="spacingAndGlyphs">32,1%</text>
<text x="1885.40" y="717.70" font-size="15.8" textLength="12.15" lengthAdjust="spacingAndGlyphs">w</text>
<text x="1901.40" y="717.70" font-size="15.8" textLength="8.47" lengthAdjust="spacingAndGlyphs">&lt;</text>
<text x="1913.71" y="717.70" font-size="15.8" textLength="13.58" lengthAdjust="spacingAndGlyphs">m</text>
<rect x="929.9" y="235" width="105.2" height="26" fill="#fff"/>
<text x="935.62" y="252.80" font-size="17.0" textLength="62.37" lengthAdjust="spacingAndGlyphs" font-weight="bold">Männer</text>
<text x="1002.26" y="252.80" font-size="17.0" textLength="26.56" lengthAdjust="spacingAndGlyphs">(m)</text>
<rect x="934.9" y="406" width="95.1" height="26" fill="#fff"/>
<text x="940.99" y="423.80" font-size="17.0" textLength="54.52" lengthAdjust="spacingAndGlyphs" font-weight="bold">Frauen</text>
<text x="999.79" y="423.80" font-size="17.0" textLength="24.97" lengthAdjust="spacingAndGlyphs">(w)</text>
<rect x="154" y="686" width="70" height="22" fill="#fff"/>
<text x="162.0" y="701.9" font-size="15" font-weight="bold" fill="#C00000" textLength="53.3" lengthAdjust="spacingAndGlyphs">BIAJ.de</text>
<text x="36.73" y="760.90" font-size="15.8" textLength="63.63" lengthAdjust="spacingAndGlyphs">Alter**...</text>
<text x="147.16" y="782.60" font-size="15.8" textLength="17.23" lengthAdjust="spacingAndGlyphs">63</text>
<text x="193.11" y="782.60" font-size="15.8" textLength="17.23" lengthAdjust="spacingAndGlyphs">64</text>
<text x="239.07" y="782.60" font-size="15.8" textLength="17.23" lengthAdjust="spacingAndGlyphs">65</text>
<text x="285.02" y="782.60" font-size="15.8" textLength="17.23" lengthAdjust="spacingAndGlyphs">66</text>
<text x="330.98" y="782.60" font-size="15.8" textLength="17.23" lengthAdjust="spacingAndGlyphs">67</text>
<text x="376.93" y="782.60" font-size="15.8" textLength="17.23" lengthAdjust="spacingAndGlyphs">68</text>
<text x="422.88" y="782.60" font-size="15.8" textLength="17.23" lengthAdjust="spacingAndGlyphs">69</text>
<text x="468.84" y="782.60" font-size="15.8" textLength="17.23" lengthAdjust="spacingAndGlyphs">70</text>
<text x="514.79" y="782.60" font-size="15.8" textLength="17.23" lengthAdjust="spacingAndGlyphs">71</text>
<text x="560.75" y="782.60" font-size="15.8" textLength="17.23" lengthAdjust="spacingAndGlyphs">72</text>
<text x="606.70" y="782.60" font-size="15.8" textLength="17.23" lengthAdjust="spacingAndGlyphs">73</text>
<text x="652.65" y="782.60" font-size="15.8" textLength="17.23" lengthAdjust="spacingAndGlyphs">74</text>
<text x="698.61" y="782.60" font-size="15.8" textLength="17.23" lengthAdjust="spacingAndGlyphs">75</text>
<text x="744.56" y="782.60" font-size="15.8" textLength="17.23" lengthAdjust="spacingAndGlyphs">76</text>
<text x="790.51" y="782.60" font-size="15.8" textLength="17.23" lengthAdjust="spacingAndGlyphs">77</text>
<text x="836.47" y="782.60" font-size="15.8" textLength="17.23" lengthAdjust="spacingAndGlyphs">78</text>
<text x="882.42" y="782.60" font-size="15.8" textLength="17.23" lengthAdjust="spacingAndGlyphs">79</text>
<text x="928.38" y="782.60" font-size="15.8" textLength="17.23" lengthAdjust="spacingAndGlyphs">80</text>
<text x="974.33" y="782.60" font-size="15.8" textLength="17.23" lengthAdjust="spacingAndGlyphs">81</text>
<text x="1020.28" y="782.60" font-size="15.8" textLength="17.23" lengthAdjust="spacingAndGlyphs">82</text>
<text x="1066.24" y="782.60" font-size="15.8" textLength="17.23" lengthAdjust="spacingAndGlyphs">83</text>
<text x="1112.19" y="782.60" font-size="15.8" textLength="17.23" lengthAdjust="spacingAndGlyphs">84</text>
<text x="1158.15" y="782.60" font-size="15.8" textLength="17.23" lengthAdjust="spacingAndGlyphs">85</text>
<text x="1204.10" y="782.60" font-size="15.8" textLength="17.23" lengthAdjust="spacingAndGlyphs">86</text>
<text x="1250.05" y="782.60" font-size="15.8" textLength="17.23" lengthAdjust="spacingAndGlyphs">87</text>
<text x="1296.01" y="782.60" font-size="15.8" textLength="17.23" lengthAdjust="spacingAndGlyphs">88</text>
<text x="1341.96" y="782.60" font-size="15.8" textLength="17.23" lengthAdjust="spacingAndGlyphs">89</text>
<text x="1387.91" y="782.60" font-size="15.8" textLength="17.23" lengthAdjust="spacingAndGlyphs">90</text>
<text x="1433.87" y="782.60" font-size="15.8" textLength="17.23" lengthAdjust="spacingAndGlyphs">91</text>
<text x="1479.82" y="782.60" font-size="15.8" textLength="17.23" lengthAdjust="spacingAndGlyphs">92</text>
<text x="1525.78" y="782.60" font-size="15.8" textLength="17.23" lengthAdjust="spacingAndGlyphs">93</text>
<text x="1571.73" y="782.60" font-size="15.8" textLength="17.23" lengthAdjust="spacingAndGlyphs">94</text>
<text x="1617.68" y="782.60" font-size="15.8" textLength="17.23" lengthAdjust="spacingAndGlyphs">95</text>
<text x="1663.64" y="782.60" font-size="15.8" textLength="17.23" lengthAdjust="spacingAndGlyphs">96</text>
<text x="1709.59" y="782.60" font-size="15.8" textLength="17.23" lengthAdjust="spacingAndGlyphs">97</text>
<text x="1755.55" y="782.60" font-size="15.8" textLength="17.23" lengthAdjust="spacingAndGlyphs">98</text>
<text x="1801.50" y="782.60" font-size="15.8" textLength="17.23" lengthAdjust="spacingAndGlyphs">99</text>
<text x="1843.14" y="772.90" font-size="15.8" textLength="25.85" lengthAdjust="spacingAndGlyphs">100</text>
<text x="1843.24" y="793.60" font-size="15.8" textLength="25.66" lengthAdjust="spacingAndGlyphs">u.ä.</text>
<text x="1886.14" y="772.90" font-size="15.8" textLength="31.78" lengthAdjust="spacingAndGlyphs">insg.</text>
<text x="1889.17" y="793.60" font-size="15.8" textLength="25.70" lengthAdjust="spacingAndGlyphs">60+</text>
<text x="136.60" y="817.50" font-size="15.8" textLength="38.76" lengthAdjust="spacingAndGlyphs">1.564</text>
<text x="136.60" y="845.50" font-size="15.8" textLength="38.76" lengthAdjust="spacingAndGlyphs">1.092</text>
<text x="140.93" y="872.50" font-size="15.8" textLength="30.09" lengthAdjust="spacingAndGlyphs">30,1</text>
<text x="182.55" y="817.50" font-size="15.8" textLength="38.76" lengthAdjust="spacingAndGlyphs">1.691</text>
<text x="182.55" y="845.50" font-size="15.8" textLength="38.76" lengthAdjust="spacingAndGlyphs">1.226</text>
<text x="186.89" y="872.50" font-size="15.8" textLength="30.09" lengthAdjust="spacingAndGlyphs">27,5</text>
<text x="228.51" y="817.50" font-size="15.8" textLength="38.76" lengthAdjust="spacingAndGlyphs">1.712</text>
<text x="228.51" y="845.50" font-size="15.8" textLength="38.76" lengthAdjust="spacingAndGlyphs">1.267</text>
<text x="232.84" y="872.50" font-size="15.8" textLength="30.09" lengthAdjust="spacingAndGlyphs">26,0</text>
<text x="274.46" y="817.50" font-size="15.8" textLength="38.76" lengthAdjust="spacingAndGlyphs">1.411</text>
<text x="274.46" y="845.50" font-size="15.8" textLength="38.76" lengthAdjust="spacingAndGlyphs">1.052</text>
<text x="278.79" y="872.50" font-size="15.8" textLength="30.09" lengthAdjust="spacingAndGlyphs">25,4</text>
<text x="320.41" y="817.50" font-size="15.8" textLength="38.76" lengthAdjust="spacingAndGlyphs">1.369</text>
<text x="320.41" y="845.50" font-size="15.8" textLength="38.76" lengthAdjust="spacingAndGlyphs">1.028</text>
<text x="324.75" y="872.50" font-size="15.8" textLength="30.09" lengthAdjust="spacingAndGlyphs">24,9</text>
<text x="366.37" y="817.50" font-size="15.8" textLength="38.76" lengthAdjust="spacingAndGlyphs">1.363</text>
<text x="366.37" y="845.50" font-size="15.8" textLength="38.76" lengthAdjust="spacingAndGlyphs">1.019</text>
<text x="370.70" y="872.50" font-size="15.8" textLength="30.09" lengthAdjust="spacingAndGlyphs">25,2</text>
<text x="412.32" y="817.50" font-size="15.8" textLength="38.76" lengthAdjust="spacingAndGlyphs">1.358</text>
<text x="412.32" y="845.50" font-size="15.8" textLength="38.76" lengthAdjust="spacingAndGlyphs">1.013</text>
<text x="416.65" y="872.50" font-size="15.8" textLength="30.09" lengthAdjust="spacingAndGlyphs">25,4</text>
<text x="458.28" y="817.50" font-size="15.8" textLength="38.76" lengthAdjust="spacingAndGlyphs">1.353</text>
<text x="458.28" y="845.50" font-size="15.8" textLength="38.76" lengthAdjust="spacingAndGlyphs">1.004</text>
<text x="462.61" y="872.50" font-size="15.8" textLength="30.09" lengthAdjust="spacingAndGlyphs">25,8</text>
<text x="504.23" y="817.50" font-size="15.8" textLength="38.76" lengthAdjust="spacingAndGlyphs">1.349</text>
<text x="510.68" y="845.50" font-size="15.8" textLength="25.85" lengthAdjust="spacingAndGlyphs">998</text>
<text x="508.56" y="872.50" font-size="15.8" textLength="30.09" lengthAdjust="spacingAndGlyphs">26,0</text>
<text x="550.18" y="817.50" font-size="15.8" textLength="38.76" lengthAdjust="spacingAndGlyphs">1.351</text>
<text x="556.64" y="845.50" font-size="15.8" textLength="25.85" lengthAdjust="spacingAndGlyphs">989</text>
<text x="554.52" y="872.50" font-size="15.8" textLength="30.09" lengthAdjust="spacingAndGlyphs">26,8</text>
<text x="596.14" y="817.50" font-size="15.8" textLength="38.76" lengthAdjust="spacingAndGlyphs">1.342</text>
<text x="602.59" y="845.50" font-size="15.8" textLength="25.85" lengthAdjust="spacingAndGlyphs">949</text>
<text x="600.47" y="872.50" font-size="15.8" textLength="30.09" lengthAdjust="spacingAndGlyphs">29,3</text>
<text x="642.09" y="817.50" font-size="15.8" textLength="38.76" lengthAdjust="spacingAndGlyphs">1.334</text>
<text x="648.54" y="845.50" font-size="15.8" textLength="25.85" lengthAdjust="spacingAndGlyphs">929</text>
<text x="646.42" y="872.50" font-size="15.8" textLength="30.09" lengthAdjust="spacingAndGlyphs">30,4</text>
<text x="688.04" y="817.50" font-size="15.8" textLength="38.76" lengthAdjust="spacingAndGlyphs">1.330</text>
<text x="694.50" y="845.50" font-size="15.8" textLength="25.85" lengthAdjust="spacingAndGlyphs">908</text>
<text x="692.38" y="872.50" font-size="15.8" textLength="30.09" lengthAdjust="spacingAndGlyphs">31,7</text>
<text x="734.00" y="817.50" font-size="15.8" textLength="38.76" lengthAdjust="spacingAndGlyphs">1.322</text>
<text x="740.45" y="845.50" font-size="15.8" textLength="25.85" lengthAdjust="spacingAndGlyphs">887</text>
<text x="738.33" y="872.50" font-size="15.8" textLength="30.09" lengthAdjust="spacingAndGlyphs">32,9</text>
<text x="779.95" y="817.50" font-size="15.8" textLength="38.76" lengthAdjust="spacingAndGlyphs">1.311</text>
<text x="786.41" y="845.50" font-size="15.8" textLength="25.85" lengthAdjust="spacingAndGlyphs">876</text>
<text x="784.29" y="872.50" font-size="15.8" textLength="30.09" lengthAdjust="spacingAndGlyphs">33,2</text>
<text x="825.91" y="817.50" font-size="15.8" textLength="38.76" lengthAdjust="spacingAndGlyphs">1.301</text>
<text x="832.36" y="845.50" font-size="15.8" textLength="25.85" lengthAdjust="spacingAndGlyphs">848</text>
<text x="830.24" y="872.50" font-size="15.8" textLength="30.09" lengthAdjust="spacingAndGlyphs">34,8</text>
<text x="871.86" y="817.50" font-size="15.8" textLength="38.76" lengthAdjust="spacingAndGlyphs">1.316</text>
<text x="878.31" y="845.50" font-size="15.8" textLength="25.85" lengthAdjust="spacingAndGlyphs">870</text>
<text x="876.19" y="872.50" font-size="15.8" textLength="30.09" lengthAdjust="spacingAndGlyphs">33,9</text>
<text x="917.81" y="817.50" font-size="15.8" textLength="38.76" lengthAdjust="spacingAndGlyphs">1.377</text>
<text x="924.27" y="845.50" font-size="15.8" textLength="25.85" lengthAdjust="spacingAndGlyphs">894</text>
<text x="922.15" y="872.50" font-size="15.8" textLength="30.09" lengthAdjust="spacingAndGlyphs">35,0</text>
<text x="963.77" y="817.50" font-size="15.8" textLength="38.76" lengthAdjust="spacingAndGlyphs">1.401</text>
<text x="970.22" y="845.50" font-size="15.8" textLength="25.85" lengthAdjust="spacingAndGlyphs">906</text>
<text x="968.10" y="872.50" font-size="15.8" textLength="30.09" lengthAdjust="spacingAndGlyphs">35,3</text>
<text x="1009.72" y="817.50" font-size="15.8" textLength="38.76" lengthAdjust="spacingAndGlyphs">1.407</text>
<text x="1016.18" y="845.50" font-size="15.8" textLength="25.85" lengthAdjust="spacingAndGlyphs">906</text>
<text x="1014.05" y="872.50" font-size="15.8" textLength="30.09" lengthAdjust="spacingAndGlyphs">35,6</text>
<text x="1055.68" y="817.50" font-size="15.8" textLength="38.76" lengthAdjust="spacingAndGlyphs">1.463</text>
<text x="1062.13" y="845.50" font-size="15.8" textLength="25.85" lengthAdjust="spacingAndGlyphs">916</text>
<text x="1060.01" y="872.50" font-size="15.8" textLength="30.09" lengthAdjust="spacingAndGlyphs">37,4</text>
<text x="1101.63" y="817.50" font-size="15.8" textLength="38.76" lengthAdjust="spacingAndGlyphs">1.483</text>
<text x="1108.08" y="845.50" font-size="15.8" textLength="25.85" lengthAdjust="spacingAndGlyphs">913</text>
<text x="1105.96" y="872.50" font-size="15.8" textLength="30.09" lengthAdjust="spacingAndGlyphs">38,4</text>
<text x="1147.58" y="817.50" font-size="15.8" textLength="38.76" lengthAdjust="spacingAndGlyphs">1.499</text>
<text x="1154.04" y="845.50" font-size="15.8" textLength="25.85" lengthAdjust="spacingAndGlyphs">908</text>
<text x="1151.92" y="872.50" font-size="15.8" textLength="30.09" lengthAdjust="spacingAndGlyphs">39,4</text>
<text x="1193.54" y="817.50" font-size="15.8" textLength="38.76" lengthAdjust="spacingAndGlyphs">1.504</text>
<text x="1199.99" y="845.50" font-size="15.8" textLength="25.85" lengthAdjust="spacingAndGlyphs">900</text>
<text x="1197.87" y="872.50" font-size="15.8" textLength="30.09" lengthAdjust="spacingAndGlyphs">40,1</text>
<text x="1239.49" y="817.50" font-size="15.8" textLength="38.76" lengthAdjust="spacingAndGlyphs">1.511</text>
<text x="1245.94" y="845.50" font-size="15.8" textLength="25.85" lengthAdjust="spacingAndGlyphs">896</text>
<text x="1243.82" y="872.50" font-size="15.8" textLength="30.09" lengthAdjust="spacingAndGlyphs">40,7</text>
<text x="1285.44" y="817.50" font-size="15.8" textLength="38.76" lengthAdjust="spacingAndGlyphs">1.520</text>
<text x="1291.90" y="845.50" font-size="15.8" textLength="25.85" lengthAdjust="spacingAndGlyphs">899</text>
<text x="1289.78" y="872.50" font-size="15.8" textLength="30.09" lengthAdjust="spacingAndGlyphs">40,8</text>
<text x="1331.40" y="817.50" font-size="15.8" textLength="38.76" lengthAdjust="spacingAndGlyphs">1.525</text>
<text x="1337.85" y="845.50" font-size="15.8" textLength="25.85" lengthAdjust="spacingAndGlyphs">893</text>
<text x="1335.73" y="872.50" font-size="15.8" textLength="30.09" lengthAdjust="spacingAndGlyphs">41,5</text>
<text x="1377.35" y="817.50" font-size="15.8" textLength="38.76" lengthAdjust="spacingAndGlyphs">1.520</text>
<text x="1383.81" y="845.50" font-size="15.8" textLength="25.85" lengthAdjust="spacingAndGlyphs">881</text>
<text x="1381.69" y="872.50" font-size="15.8" textLength="30.09" lengthAdjust="spacingAndGlyphs">42,0</text>
<text x="1423.31" y="817.50" font-size="15.8" textLength="38.76" lengthAdjust="spacingAndGlyphs">1.494</text>
<text x="1429.76" y="845.50" font-size="15.8" textLength="25.85" lengthAdjust="spacingAndGlyphs">854</text>
<text x="1427.64" y="872.50" font-size="15.8" textLength="30.09" lengthAdjust="spacingAndGlyphs">42,8</text>
<text x="1469.26" y="817.50" font-size="15.8" textLength="38.76" lengthAdjust="spacingAndGlyphs">1.507</text>
<text x="1475.71" y="845.50" font-size="15.8" textLength="25.85" lengthAdjust="spacingAndGlyphs">839</text>
<text x="1473.59" y="872.50" font-size="15.8" textLength="30.09" lengthAdjust="spacingAndGlyphs">44,3</text>
<text x="1515.21" y="817.50" font-size="15.8" textLength="38.76" lengthAdjust="spacingAndGlyphs">1.540</text>
<text x="1521.67" y="845.50" font-size="15.8" textLength="25.85" lengthAdjust="spacingAndGlyphs">855</text>
<text x="1519.55" y="872.50" font-size="15.8" textLength="30.09" lengthAdjust="spacingAndGlyphs">44,5</text>
<text x="1561.17" y="817.50" font-size="15.8" textLength="38.76" lengthAdjust="spacingAndGlyphs">1.550</text>
<text x="1567.62" y="845.50" font-size="15.8" textLength="25.85" lengthAdjust="spacingAndGlyphs">844</text>
<text x="1565.50" y="872.50" font-size="15.8" textLength="30.09" lengthAdjust="spacingAndGlyphs">45,6</text>
<text x="1607.12" y="817.50" font-size="15.8" textLength="38.76" lengthAdjust="spacingAndGlyphs">1.565</text>
<text x="1613.58" y="845.50" font-size="15.8" textLength="25.85" lengthAdjust="spacingAndGlyphs">836</text>
<text x="1611.45" y="872.50" font-size="15.8" textLength="30.09" lengthAdjust="spacingAndGlyphs">46,6</text>
<text x="1653.08" y="817.50" font-size="15.8" textLength="38.76" lengthAdjust="spacingAndGlyphs">1.566</text>
<text x="1659.53" y="845.50" font-size="15.8" textLength="25.85" lengthAdjust="spacingAndGlyphs">829</text>
<text x="1657.41" y="872.50" font-size="15.8" textLength="30.09" lengthAdjust="spacingAndGlyphs">47,0</text>
<text x="1699.03" y="817.50" font-size="15.8" textLength="38.76" lengthAdjust="spacingAndGlyphs">1.554</text>
<text x="1705.48" y="845.50" font-size="15.8" textLength="25.85" lengthAdjust="spacingAndGlyphs">823</text>
<text x="1703.36" y="872.50" font-size="15.8" textLength="30.09" lengthAdjust="spacingAndGlyphs">47,1</text>
<text x="1744.98" y="817.50" font-size="15.8" textLength="38.76" lengthAdjust="spacingAndGlyphs">1.553</text>
<text x="1751.44" y="845.50" font-size="15.8" textLength="25.85" lengthAdjust="spacingAndGlyphs">801</text>
<text x="1749.32" y="872.50" font-size="15.8" textLength="30.09" lengthAdjust="spacingAndGlyphs">48,4</text>
<text x="1790.94" y="817.50" font-size="15.8" textLength="38.76" lengthAdjust="spacingAndGlyphs">1.505</text>
<text x="1797.39" y="845.50" font-size="15.8" textLength="25.85" lengthAdjust="spacingAndGlyphs">801</text>
<text x="1795.27" y="872.50" font-size="15.8" textLength="30.09" lengthAdjust="spacingAndGlyphs">46,8</text>
<text x="1836.89" y="817.50" font-size="15.8" textLength="38.76" lengthAdjust="spacingAndGlyphs">1.411</text>
<text x="1843.34" y="845.50" font-size="15.8" textLength="25.85" lengthAdjust="spacingAndGlyphs">788</text>
<text x="1841.22" y="872.50" font-size="15.8" textLength="30.09" lengthAdjust="spacingAndGlyphs">44,2</text>
<text x="1882.84" y="817.50" font-size="15.8" textLength="38.76" lengthAdjust="spacingAndGlyphs">1.405</text>
<text x="1889.30" y="845.50" font-size="15.8" textLength="25.85" lengthAdjust="spacingAndGlyphs">955</text>
<text x="1887.18" y="872.50" font-size="15.8" textLength="30.09" lengthAdjust="spacingAndGlyphs">32,1</text>
<line x1="33" y1="813.5" x2="72.5" y2="813.5" stroke="#4472C4" stroke-width="5" stroke-linecap="round"/>
<polygon points="52.40,808.20 47.60,817.80 57.20,817.80" fill="#4472C4"/>
<line x1="33" y1="840.4" x2="72.5" y2="840.4" stroke="#FF0000" stroke-width="4.5" stroke-linecap="round"/>
<circle cx="52.40" cy="840.40" r="4.6" fill="#FF0000"/>
<line x1="33" y1="867.3" x2="72.5" y2="867.3" stroke="#70AD47" stroke-width="5" stroke-linecap="round"/>
<polygon points="52.40,863.70 56.00,867.30 52.40,870.90 48.80,867.30" fill="#70AD47" stroke="#000" stroke-width="1.8" stroke-linejoin="miter"/>
<text x="79.68" y="817.60" font-size="15.8" textLength="13.58" lengthAdjust="spacingAndGlyphs">m</text>
<text x="80.73" y="845.60" font-size="15.8" textLength="12.15" lengthAdjust="spacingAndGlyphs">w</text>
<text x="79.75" y="872.50" font-size="15.8" textLength="47.92" lengthAdjust="spacingAndGlyphs">Lücke*</text>
<text x="5.58" y="915.90" font-size="15.8" textLength="18.59" lengthAdjust="spacingAndGlyphs">(1)</text>
<text x="27.40" y="915.90" font-size="15.8" textLength="116.44" lengthAdjust="spacingAndGlyphs">Regelaltersrente,</text>
<text x="147.62" y="915.90" font-size="15.8" textLength="76.56" lengthAdjust="spacingAndGlyphs">Altersrente</text>
<text x="227.96" y="915.90" font-size="15.8" textLength="19.69" lengthAdjust="spacingAndGlyphs">für</text>
<text x="251.42" y="915.90" font-size="15.8" textLength="70.63" lengthAdjust="spacingAndGlyphs">besonders</text>
<text x="325.83" y="915.90" font-size="15.8" textLength="66.75" lengthAdjust="spacingAndGlyphs">langjährig</text>
<text x="396.36" y="915.90" font-size="15.8" textLength="82.01" lengthAdjust="spacingAndGlyphs">Versicherte,</text>
<text x="482.14" y="915.90" font-size="15.8" textLength="76.56" lengthAdjust="spacingAndGlyphs">Altersrente</text>
<text x="562.48" y="915.90" font-size="15.8" textLength="19.69" lengthAdjust="spacingAndGlyphs">für</text>
<text x="585.95" y="915.90" font-size="15.8" textLength="66.75" lengthAdjust="spacingAndGlyphs">langjährig</text>
<text x="656.47" y="915.90" font-size="15.8" textLength="82.01" lengthAdjust="spacingAndGlyphs">Versicherte,</text>
<text x="742.26" y="915.90" font-size="15.8" textLength="76.56" lengthAdjust="spacingAndGlyphs">Altersrente</text>
<text x="822.59" y="915.90" font-size="15.8" textLength="19.69" lengthAdjust="spacingAndGlyphs">für</text>
<text x="846.06" y="915.90" font-size="15.8" textLength="123.71" lengthAdjust="spacingAndGlyphs">schwerbehinderte</text>
<text x="973.54" y="915.90" font-size="15.8" textLength="74.98" lengthAdjust="spacingAndGlyphs">Menschen,</text>
<text x="1052.30" y="915.90" font-size="15.8" textLength="76.56" lengthAdjust="spacingAndGlyphs">Altersrente</text>
<text x="1132.63" y="915.90" font-size="15.8" textLength="24.01" lengthAdjust="spacingAndGlyphs">wg.</text>
<text x="1160.42" y="915.90" font-size="15.8" textLength="104.72" lengthAdjust="spacingAndGlyphs">Arbeitslosigkeit</text>
<text x="1268.92" y="915.90" font-size="15.8" textLength="31.71" lengthAdjust="spacingAndGlyphs">oder</text>
<text x="1304.40" y="915.90" font-size="15.8" textLength="32.61" lengthAdjust="spacingAndGlyphs">nach</text>
<text x="1340.79" y="915.90" font-size="15.8" textLength="130.15" lengthAdjust="spacingAndGlyphs">Altersteilzeitarbeit,</text>
<text x="1474.72" y="915.90" font-size="15.8" textLength="76.56" lengthAdjust="spacingAndGlyphs">Altersrente</text>
<text x="1555.05" y="915.90" font-size="15.8" textLength="19.69" lengthAdjust="spacingAndGlyphs">für</text>
<text x="1578.52" y="915.90" font-size="15.8" textLength="47.35" lengthAdjust="spacingAndGlyphs">Frauen</text>
<text x="1629.65" y="915.90" font-size="15.8" textLength="26.32" lengthAdjust="spacingAndGlyphs">und</text>
<text x="1663.52" y="915.90" font-size="15.8" textLength="76.56" lengthAdjust="spacingAndGlyphs">Altersrente</text>
<text x="1743.86" y="915.90" font-size="15.8" textLength="19.69" lengthAdjust="spacingAndGlyphs">für</text>
<text x="1767.32" y="915.90" font-size="15.8" textLength="66.75" lengthAdjust="spacingAndGlyphs">langjährig</text>
<text x="1837.85" y="915.90" font-size="15.8" textLength="37.27" lengthAdjust="spacingAndGlyphs">unter</text>
<text x="1878.90" y="915.90" font-size="15.8" textLength="32.31" lengthAdjust="spacingAndGlyphs">Tage</text>
<text x="28.43" y="940.70" font-size="15.8" textLength="83.74" lengthAdjust="spacingAndGlyphs">beschäftigte</text>
<text x="115.94" y="940.70" font-size="15.8" textLength="65.89" lengthAdjust="spacingAndGlyphs">Bergleute</text>
<text x="5.23" y="965.80" font-size="15.8" textLength="8.32" lengthAdjust="spacingAndGlyphs">*</text>
<text x="29.23" y="965.80" font-size="15.8" textLength="56.11" lengthAdjust="spacingAndGlyphs">Abstand</text>
<text x="89.12" y="965.80" font-size="15.8" textLength="17.67" lengthAdjust="spacingAndGlyphs">(in</text>
<text x="110.57" y="965.80" font-size="15.8" textLength="57.59" lengthAdjust="spacingAndGlyphs">Prozent)</text>
<text x="171.93" y="965.80" font-size="15.8" textLength="23.61" lengthAdjust="spacingAndGlyphs">des</text>
<text x="199.33" y="965.80" font-size="15.8" textLength="135.23" lengthAdjust="spacingAndGlyphs">Rentenzahlbetrages</text>
<text x="338.33" y="965.80" font-size="15.8" textLength="22.91" lengthAdjust="spacingAndGlyphs">der</text>
<text x="365.01" y="965.80" font-size="15.8" textLength="93.11" lengthAdjust="spacingAndGlyphs">Rentnerinnen</text>
<text x="461.90" y="965.80" font-size="15.8" textLength="22.07" lengthAdjust="spacingAndGlyphs">(w)</text>
<text x="487.74" y="965.80" font-size="15.8" textLength="29.69" lengthAdjust="spacingAndGlyphs">vom</text>
<text x="521.21" y="965.80" font-size="15.8" textLength="120.39" lengthAdjust="spacingAndGlyphs">Rentenzahlbetrag</text>
<text x="645.37" y="965.80" font-size="15.8" textLength="22.91" lengthAdjust="spacingAndGlyphs">der</text>
<text x="672.05" y="965.80" font-size="15.8" textLength="79.47" lengthAdjust="spacingAndGlyphs">männlichen</text>
<text x="755.30" y="965.80" font-size="15.8" textLength="54.65" lengthAdjust="spacingAndGlyphs">Rentner</text>
<text x="813.73" y="965.80" font-size="15.8" textLength="18.40" lengthAdjust="spacingAndGlyphs">(m</text>
<text x="835.91" y="965.80" font-size="15.8" textLength="8.32" lengthAdjust="spacingAndGlyphs">=</text>
<text x="848.00" y="965.80" font-size="15.8" textLength="25.39" lengthAdjust="spacingAndGlyphs">100</text>
<text x="877.17" y="965.80" font-size="15.8" textLength="57.59" lengthAdjust="spacingAndGlyphs">Prozent)</text>
<text x="938.54" y="965.80" font-size="15.8" textLength="5.11" lengthAdjust="spacingAndGlyphs">-</text>
<text x="947.42" y="965.80" font-size="15.8" textLength="28.58" lengthAdjust="spacingAndGlyphs">z.B.:</text>
<text x="979.78" y="965.80" font-size="15.8" textLength="24.41" lengthAdjust="spacingAndGlyphs">Der</text>
<text x="1007.96" y="965.80" font-size="15.8" textLength="117.18" lengthAdjust="spacingAndGlyphs">durchschnittliche</text>
<text x="1128.92" y="965.80" font-size="15.8" textLength="120.39" lengthAdjust="spacingAndGlyphs">Rentenzahlbetrag</text>
<text x="1253.08" y="965.80" font-size="15.8" textLength="22.91" lengthAdjust="spacingAndGlyphs">der</text>
<text x="1279.76" y="965.80" font-size="15.8" textLength="47.35" lengthAdjust="spacingAndGlyphs">Frauen</text>
<text x="1330.89" y="965.80" font-size="15.8" textLength="17.17" lengthAdjust="spacingAndGlyphs">im</text>
<text x="1351.84" y="965.80" font-size="15.8" textLength="33.22" lengthAdjust="spacingAndGlyphs">Alter</text>
<text x="1388.83" y="965.80" font-size="15.8" textLength="25.12" lengthAdjust="spacingAndGlyphs">von</text>
<text x="1417.73" y="965.80" font-size="15.8" textLength="16.93" lengthAdjust="spacingAndGlyphs" font-weight="bold">67</text>
<text x="1438.44" y="965.80" font-size="15.8" textLength="46.04" lengthAdjust="spacingAndGlyphs" font-weight="bold">Jahren</text>
<text x="1488.25" y="965.80" font-size="15.8" textLength="43.14" lengthAdjust="spacingAndGlyphs">(1.028</text>
<text x="1535.16" y="965.80" font-size="15.8" textLength="36.62" lengthAdjust="spacingAndGlyphs">Euro)</text>
<text x="1575.56" y="965.80" font-size="15.8" textLength="19.69" lengthAdjust="spacingAndGlyphs">lag</text>
<text x="1599.03" y="965.80" font-size="15.8" textLength="29.56" lengthAdjust="spacingAndGlyphs">24,9</text>
<text x="1632.36" y="965.80" font-size="15.8" textLength="52.53" lengthAdjust="spacingAndGlyphs">Prozent</text>
<text x="1688.67" y="965.80" font-size="15.8" textLength="30.46" lengthAdjust="spacingAndGlyphs">(341</text>
<text x="1722.90" y="965.80" font-size="15.8" textLength="36.62" lengthAdjust="spacingAndGlyphs">Euro)</text>
<text x="1763.29" y="965.80" font-size="15.8" textLength="37.27" lengthAdjust="spacingAndGlyphs">unter</text>
<text x="1804.34" y="965.80" font-size="15.8" textLength="30.42" lengthAdjust="spacingAndGlyphs">dem</text>
<text x="1838.54" y="965.80" font-size="15.8" textLength="22.91" lengthAdjust="spacingAndGlyphs">der</text>
<text x="1865.22" y="965.80" font-size="15.8" textLength="53.96" lengthAdjust="spacingAndGlyphs">Männer</text>
<text x="1922.96" y="965.80" font-size="15.8" textLength="17.17" lengthAdjust="spacingAndGlyphs">im</text>
<text x="28.88" y="990.60" font-size="15.8" textLength="56.75" lengthAdjust="spacingAndGlyphs">gleichen</text>
<text x="89.41" y="990.60" font-size="15.8" textLength="33.22" lengthAdjust="spacingAndGlyphs">Alter</text>
<text x="126.40" y="990.60" font-size="15.8" textLength="43.14" lengthAdjust="spacingAndGlyphs">(1.369</text>
<text x="173.32" y="990.60" font-size="15.8" textLength="40.79" lengthAdjust="spacingAndGlyphs">Euro),</text>
<text x="217.88" y="990.60" font-size="15.8" textLength="22.91" lengthAdjust="spacingAndGlyphs">der</text>
<text x="244.56" y="990.60" font-size="15.8" textLength="117.18" lengthAdjust="spacingAndGlyphs">durchschnittliche</text>
<text x="365.51" y="990.60" font-size="15.8" textLength="120.39" lengthAdjust="spacingAndGlyphs">Rentenzahlbetrag</text>
<text x="489.68" y="990.60" font-size="15.8" textLength="22.91" lengthAdjust="spacingAndGlyphs">der</text>
<text x="516.36" y="990.60" font-size="15.8" textLength="47.35" lengthAdjust="spacingAndGlyphs">Frauen</text>
<text x="567.49" y="990.60" font-size="15.8" textLength="17.17" lengthAdjust="spacingAndGlyphs">im</text>
<text x="588.43" y="990.60" font-size="15.8" textLength="33.22" lengthAdjust="spacingAndGlyphs">Alter</text>
<text x="625.43" y="990.60" font-size="15.8" textLength="25.12" lengthAdjust="spacingAndGlyphs">von</text>
<text x="654.33" y="990.60" font-size="15.8" textLength="16.93" lengthAdjust="spacingAndGlyphs" font-weight="bold">75</text>
<text x="675.03" y="990.60" font-size="15.8" textLength="46.04" lengthAdjust="spacingAndGlyphs" font-weight="bold">Jahren</text>
<text x="724.85" y="990.60" font-size="15.8" textLength="30.46" lengthAdjust="spacingAndGlyphs">(908</text>
<text x="759.08" y="990.60" font-size="15.8" textLength="36.62" lengthAdjust="spacingAndGlyphs">Euro)</text>
<text x="799.48" y="990.60" font-size="15.8" textLength="19.69" lengthAdjust="spacingAndGlyphs">lag</text>
<text x="822.94" y="990.60" font-size="15.8" textLength="29.56" lengthAdjust="spacingAndGlyphs">31,7</text>
<text x="856.28" y="990.60" font-size="15.8" textLength="52.53" lengthAdjust="spacingAndGlyphs">Prozent</text>
<text x="912.58" y="990.60" font-size="15.8" textLength="30.46" lengthAdjust="spacingAndGlyphs">(422</text>
<text x="946.82" y="990.60" font-size="15.8" textLength="36.62" lengthAdjust="spacingAndGlyphs">Euro)</text>
<text x="987.21" y="990.60" font-size="15.8" textLength="37.27" lengthAdjust="spacingAndGlyphs">unter</text>
<text x="1028.26" y="990.60" font-size="15.8" textLength="30.42" lengthAdjust="spacingAndGlyphs">dem</text>
<text x="1062.46" y="990.60" font-size="15.8" textLength="22.91" lengthAdjust="spacingAndGlyphs">der</text>
<text x="1089.14" y="990.60" font-size="15.8" textLength="53.96" lengthAdjust="spacingAndGlyphs">Männer</text>
<text x="1146.87" y="990.60" font-size="15.8" textLength="17.17" lengthAdjust="spacingAndGlyphs">im</text>
<text x="1167.82" y="990.60" font-size="15.8" textLength="56.75" lengthAdjust="spacingAndGlyphs">gleichen</text>
<text x="1228.35" y="990.60" font-size="15.8" textLength="33.22" lengthAdjust="spacingAndGlyphs">Alter</text>
<text x="1265.35" y="990.60" font-size="15.8" textLength="43.14" lengthAdjust="spacingAndGlyphs">(1.330</text>
<text x="1312.26" y="990.60" font-size="15.8" textLength="40.79" lengthAdjust="spacingAndGlyphs">Euro),</text>
<text x="1356.82" y="990.60" font-size="15.8" textLength="22.91" lengthAdjust="spacingAndGlyphs">der</text>
<text x="1383.50" y="990.60" font-size="15.8" textLength="117.18" lengthAdjust="spacingAndGlyphs">durchschnittliche</text>
<text x="1504.46" y="990.60" font-size="15.8" textLength="120.39" lengthAdjust="spacingAndGlyphs">Rentenzahlbetrag</text>
<text x="1628.62" y="990.60" font-size="15.8" textLength="22.91" lengthAdjust="spacingAndGlyphs">der</text>
<text x="1655.30" y="990.60" font-size="15.8" textLength="47.35" lengthAdjust="spacingAndGlyphs">Frauen</text>
<text x="1706.43" y="990.60" font-size="15.8" textLength="17.17" lengthAdjust="spacingAndGlyphs">im</text>
<text x="1727.38" y="990.60" font-size="15.8" textLength="33.22" lengthAdjust="spacingAndGlyphs">Alter</text>
<text x="1764.37" y="990.60" font-size="15.8" textLength="25.12" lengthAdjust="spacingAndGlyphs">von</text>
<text x="1793.27" y="990.60" font-size="15.8" textLength="16.93" lengthAdjust="spacingAndGlyphs" font-weight="bold">85</text>
<text x="1813.98" y="990.60" font-size="15.8" textLength="46.04" lengthAdjust="spacingAndGlyphs" font-weight="bold">Jahren</text>
<text x="1863.79" y="990.60" font-size="15.8" textLength="30.46" lengthAdjust="spacingAndGlyphs">(908</text>
<text x="1898.02" y="990.60" font-size="15.8" textLength="36.62" lengthAdjust="spacingAndGlyphs">Euro)</text>
<text x="1938.42" y="990.60" font-size="15.8" textLength="19.69" lengthAdjust="spacingAndGlyphs">lag</text>
<text x="29.13" y="1016.10" font-size="15.8" textLength="29.56" lengthAdjust="spacingAndGlyphs">39,4</text>
<text x="62.46" y="1016.10" font-size="15.8" textLength="52.53" lengthAdjust="spacingAndGlyphs">Prozent</text>
<text x="118.77" y="1016.10" font-size="15.8" textLength="30.46" lengthAdjust="spacingAndGlyphs">(591</text>
<text x="153.00" y="1016.10" font-size="15.8" textLength="36.62" lengthAdjust="spacingAndGlyphs">Euro)</text>
<text x="193.39" y="1016.10" font-size="15.8" textLength="37.27" lengthAdjust="spacingAndGlyphs">unter</text>
<text x="234.44" y="1016.10" font-size="15.8" textLength="30.42" lengthAdjust="spacingAndGlyphs">dem</text>
<text x="268.64" y="1016.10" font-size="15.8" textLength="22.91" lengthAdjust="spacingAndGlyphs">der</text>
<text x="295.32" y="1016.10" font-size="15.8" textLength="53.96" lengthAdjust="spacingAndGlyphs">Männer</text>
<text x="353.05" y="1016.10" font-size="15.8" textLength="17.17" lengthAdjust="spacingAndGlyphs">im</text>
<text x="374.00" y="1016.10" font-size="15.8" textLength="56.75" lengthAdjust="spacingAndGlyphs">gleichen</text>
<text x="434.53" y="1016.10" font-size="15.8" textLength="33.22" lengthAdjust="spacingAndGlyphs">Alter</text>
<text x="471.53" y="1016.10" font-size="15.8" textLength="43.14" lengthAdjust="spacingAndGlyphs">(1.499</text>
<text x="518.44" y="1016.10" font-size="15.8" textLength="36.62" lengthAdjust="spacingAndGlyphs">Euro)</text>
<text x="558.84" y="1016.10" font-size="15.8" textLength="26.32" lengthAdjust="spacingAndGlyphs">und</text>
<text x="588.93" y="1016.10" font-size="15.8" textLength="22.91" lengthAdjust="spacingAndGlyphs">der</text>
<text x="615.61" y="1016.10" font-size="15.8" textLength="117.18" lengthAdjust="spacingAndGlyphs">durchschnittliche</text>
<text x="736.57" y="1016.10" font-size="15.8" textLength="120.39" lengthAdjust="spacingAndGlyphs">Rentenzahlbetrag</text>
<text x="860.73" y="1016.10" font-size="15.8" textLength="22.91" lengthAdjust="spacingAndGlyphs">der</text>
<text x="887.41" y="1016.10" font-size="15.8" textLength="47.35" lengthAdjust="spacingAndGlyphs">Frauen</text>
<text x="938.54" y="1016.10" font-size="15.8" textLength="17.17" lengthAdjust="spacingAndGlyphs">im</text>
<text x="959.49" y="1016.10" font-size="15.8" textLength="33.22" lengthAdjust="spacingAndGlyphs">Alter</text>
<text x="996.49" y="1016.10" font-size="15.8" textLength="25.12" lengthAdjust="spacingAndGlyphs">von</text>
<text x="1025.38" y="1016.10" font-size="15.8" textLength="16.93" lengthAdjust="spacingAndGlyphs" font-weight="bold">95</text>
<text x="1046.09" y="1016.10" font-size="15.8" textLength="46.04" lengthAdjust="spacingAndGlyphs" font-weight="bold">Jahren</text>
<text x="1095.90" y="1016.10" font-size="15.8" textLength="30.46" lengthAdjust="spacingAndGlyphs">(836</text>
<text x="1130.13" y="1016.10" font-size="15.8" textLength="36.62" lengthAdjust="spacingAndGlyphs">Euro)</text>
<text x="1170.53" y="1016.10" font-size="15.8" textLength="19.69" lengthAdjust="spacingAndGlyphs">lag</text>
<text x="1194.00" y="1016.10" font-size="15.8" textLength="29.56" lengthAdjust="spacingAndGlyphs">46,6</text>
<text x="1227.33" y="1016.10" font-size="15.8" textLength="52.53" lengthAdjust="spacingAndGlyphs">Prozent</text>
<text x="1283.64" y="1016.10" font-size="15.8" textLength="30.46" lengthAdjust="spacingAndGlyphs">(729</text>
<text x="1317.87" y="1016.10" font-size="15.8" textLength="36.62" lengthAdjust="spacingAndGlyphs">Euro)</text>
<text x="1358.27" y="1016.10" font-size="15.8" textLength="37.27" lengthAdjust="spacingAndGlyphs">unter</text>
<text x="1399.32" y="1016.10" font-size="15.8" textLength="30.42" lengthAdjust="spacingAndGlyphs">dem</text>
<text x="1433.52" y="1016.10" font-size="15.8" textLength="22.91" lengthAdjust="spacingAndGlyphs">der</text>
<text x="1460.20" y="1016.10" font-size="15.8" textLength="53.96" lengthAdjust="spacingAndGlyphs">Männer</text>
<text x="1517.93" y="1016.10" font-size="15.8" textLength="17.17" lengthAdjust="spacingAndGlyphs">im</text>
<text x="1538.88" y="1016.10" font-size="15.8" textLength="56.75" lengthAdjust="spacingAndGlyphs">gleichen</text>
<text x="1599.41" y="1016.10" font-size="15.8" textLength="33.22" lengthAdjust="spacingAndGlyphs">Alter</text>
<text x="1636.40" y="1016.10" font-size="15.8" textLength="43.14" lengthAdjust="spacingAndGlyphs">(1.565</text>
<text x="1683.31" y="1016.10" font-size="15.8" textLength="40.84" lengthAdjust="spacingAndGlyphs">Euro).</text>
<text x="1727.93" y="1016.10" font-size="15.8" textLength="24.41" lengthAdjust="spacingAndGlyphs">Der</text>
<text x="1756.11" y="1016.10" font-size="15.8" textLength="117.18" lengthAdjust="spacingAndGlyphs">durchschnittliche</text>
<text x="28.70" y="1040.70" font-size="15.8" textLength="120.39" lengthAdjust="spacingAndGlyphs">Rentenzahlbetrag</text>
<text x="152.87" y="1040.70" font-size="15.8" textLength="22.91" lengthAdjust="spacingAndGlyphs">der</text>
<text x="179.55" y="1040.70" font-size="15.8" textLength="47.35" lengthAdjust="spacingAndGlyphs">Frauen</text>
<text x="230.68" y="1040.70" font-size="15.8" textLength="68.77" lengthAdjust="spacingAndGlyphs">insgesamt</text>
<text x="303.22" y="1040.70" font-size="15.8" textLength="30.46" lengthAdjust="spacingAndGlyphs">(955</text>
<text x="337.46" y="1040.70" font-size="15.8" textLength="36.62" lengthAdjust="spacingAndGlyphs">Euro)</text>
<text x="377.85" y="1040.70" font-size="15.8" textLength="19.69" lengthAdjust="spacingAndGlyphs">lag</text>
<text x="401.32" y="1040.70" font-size="15.8" textLength="29.56" lengthAdjust="spacingAndGlyphs">32,1</text>
<text x="434.65" y="1040.70" font-size="15.8" textLength="52.53" lengthAdjust="spacingAndGlyphs">Prozent</text>
<text x="490.96" y="1040.70" font-size="15.8" textLength="30.46" lengthAdjust="spacingAndGlyphs">(450</text>
<text x="525.19" y="1040.70" font-size="15.8" textLength="36.62" lengthAdjust="spacingAndGlyphs">Euro)</text>
<text x="565.59" y="1040.70" font-size="15.8" textLength="37.27" lengthAdjust="spacingAndGlyphs">unter</text>
<text x="606.64" y="1040.70" font-size="15.8" textLength="30.42" lengthAdjust="spacingAndGlyphs">dem</text>
<text x="640.84" y="1040.70" font-size="15.8" textLength="22.91" lengthAdjust="spacingAndGlyphs">der</text>
<text x="667.52" y="1040.70" font-size="15.8" textLength="53.96" lengthAdjust="spacingAndGlyphs">Männer</text>
<text x="725.25" y="1040.70" font-size="15.8" textLength="68.77" lengthAdjust="spacingAndGlyphs">insgesamt</text>
<text x="797.80" y="1040.70" font-size="15.8" textLength="43.14" lengthAdjust="spacingAndGlyphs">(1.405</text>
<text x="844.71" y="1040.70" font-size="15.8" textLength="40.84" lengthAdjust="spacingAndGlyphs">Euro).</text>
<text x="889.32" y="1040.70" font-size="15.8" textLength="52.60" lengthAdjust="spacingAndGlyphs">(Lücken</text>
<text x="945.69" y="1040.70" font-size="15.8" textLength="66.78" lengthAdjust="spacingAndGlyphs">errechnet</text>
<text x="1016.24" y="1040.70" font-size="15.8" textLength="23.30" lengthAdjust="spacingAndGlyphs">aus</text>
<text x="1043.32" y="1040.70" font-size="15.8" textLength="34.04" lengthAdjust="spacingAndGlyphs">nicht</text>
<text x="1081.14" y="1040.70" font-size="15.8" textLength="79.30" lengthAdjust="spacingAndGlyphs">gerundeten</text>
<text x="1164.21" y="1040.70" font-size="15.8" textLength="66.82" lengthAdjust="spacingAndGlyphs">Beträgen)</text>
<text x="5.53" y="1065.80" font-size="15.8" textLength="16.63" lengthAdjust="spacingAndGlyphs">**</text>
<text x="29.57" y="1065.80" font-size="15.8" textLength="24.81" lengthAdjust="spacingAndGlyphs">Das</text>
<text x="58.15" y="1065.80" font-size="15.8" textLength="33.22" lengthAdjust="spacingAndGlyphs">Alter</text>
<text x="95.14" y="1065.80" font-size="15.8" textLength="17.17" lengthAdjust="spacingAndGlyphs">im</text>
<text x="116.09" y="1065.80" font-size="15.8" textLength="103.58" lengthAdjust="spacingAndGlyphs">Rentenbestand</text>
<text x="223.45" y="1065.80" font-size="15.8" textLength="40.19" lengthAdjust="spacingAndGlyphs">ergibt</text>
<text x="267.42" y="1065.80" font-size="15.8" textLength="26.20" lengthAdjust="spacingAndGlyphs">sich</text>
<text x="297.39" y="1065.80" font-size="15.8" textLength="16.86" lengthAdjust="spacingAndGlyphs">....</text>
<text x="318.03" y="1065.80" font-size="15.8" textLength="23.30" lengthAdjust="spacingAndGlyphs">aus</text>
<text x="345.11" y="1065.80" font-size="15.8" textLength="22.91" lengthAdjust="spacingAndGlyphs">der</text>
<text x="371.79" y="1065.80" font-size="15.8" textLength="62.11" lengthAdjust="spacingAndGlyphs">Differenz</text>
<text x="437.68" y="1065.80" font-size="15.8" textLength="61.82" lengthAdjust="spacingAndGlyphs">zwischen</text>
<text x="503.27" y="1065.80" font-size="15.8" textLength="30.42" lengthAdjust="spacingAndGlyphs">dem</text>
<text x="537.47" y="1065.80" font-size="15.8" textLength="27.92" lengthAdjust="spacingAndGlyphs">Jahr</text>
<text x="569.17" y="1065.80" font-size="15.8" textLength="23.61" lengthAdjust="spacingAndGlyphs">des</text>
<text x="596.56" y="1065.80" font-size="15.8" textLength="131.55" lengthAdjust="spacingAndGlyphs">Erhebungsstichtags</text>
<text x="731.89" y="1065.80" font-size="15.8" textLength="31.80" lengthAdjust="spacingAndGlyphs">(hier</text>
<text x="767.47" y="1065.80" font-size="15.8" textLength="38.92" lengthAdjust="spacingAndGlyphs">2024)</text>
<text x="810.16" y="1065.80" font-size="15.8" textLength="26.32" lengthAdjust="spacingAndGlyphs">und</text>
<text x="840.26" y="1065.80" font-size="15.8" textLength="30.42" lengthAdjust="spacingAndGlyphs">dem</text>
<text x="874.46" y="1065.80" font-size="15.8" textLength="85.15" lengthAdjust="spacingAndGlyphs">Geburtsjahr.</text>
<text x="6.12" y="1090.40" font-size="15.8" textLength="48.76" lengthAdjust="spacingAndGlyphs">Quelle:</text>
<text x="58.66" y="1090.40" font-size="15.8" textLength="63.63" lengthAdjust="spacingAndGlyphs">Deutsche</text>
<text x="126.06" y="1090.40" font-size="15.8" textLength="140.71" lengthAdjust="spacingAndGlyphs">Rentenversicherung;</text>
<text x="270.55" y="1090.40" font-size="15.8" textLength="45.39" lengthAdjust="spacingAndGlyphs">eigene</text>
<text x="319.72" y="1090.40" font-size="15.8" textLength="89.85" lengthAdjust="spacingAndGlyphs">Berechungen</text>
<text x="5.83" y="1115.60" font-size="15.8" textLength="50.69" lengthAdjust="spacingAndGlyphs">Bremer</text>
<text x="60.29" y="1115.60" font-size="15.8" textLength="50.51" lengthAdjust="spacingAndGlyphs" font-weight="bold">Institut</text>
<text x="114.57" y="1115.60" font-size="15.8" textLength="19.69" lengthAdjust="spacingAndGlyphs">für</text>
<text x="138.04" y="1115.60" font-size="15.8" textLength="43.32" lengthAdjust="spacingAndGlyphs" font-weight="bold">Arbeit</text>
<text x="181.36" y="1115.60" font-size="15.8" textLength="114.38" lengthAdjust="spacingAndGlyphs">smarktforschung</text>
<text x="299.51" y="1115.60" font-size="15.8" textLength="26.32" lengthAdjust="spacingAndGlyphs">und</text>
<text x="329.61" y="1115.60" font-size="15.8" textLength="48.74" lengthAdjust="spacingAndGlyphs" font-weight="bold">Jugend</text>
<text x="378.35" y="1115.60" font-size="15.8" textLength="73.15" lengthAdjust="spacingAndGlyphs">berufshilfe</text>
<text x="455.27" y="1115.60" font-size="15.8" textLength="5.06" lengthAdjust="spacingAndGlyphs">(</text>
<text x="460.34" y="1115.60" font-size="15.8" textLength="51.29" lengthAdjust="spacingAndGlyphs" font-weight="bold" fill="#C00000">BIAJ.de</text>
<text x="511.63" y="1115.60" font-size="15.8" textLength="5.06" lengthAdjust="spacingAndGlyphs">)</text>
</svg></body></html>
